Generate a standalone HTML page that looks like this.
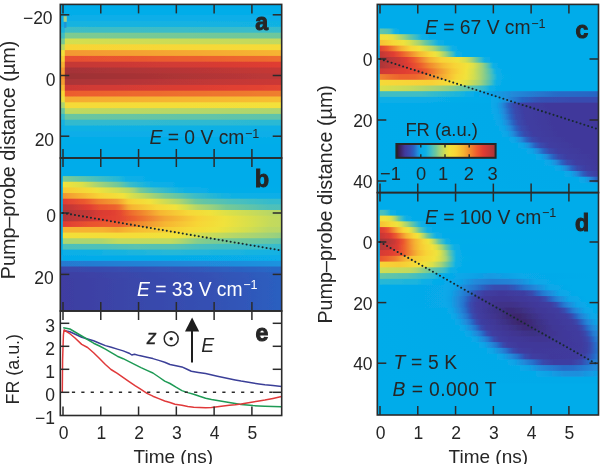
<!DOCTYPE html>
<html><head><meta charset="utf-8"><style>html,body{margin:0;padding:0;background:#fff;width:600px;height:464px;overflow:hidden}svg text{font-family:'Liberation Sans',sans-serif}</style></head>
<body><svg width="600" height="464" viewBox="0 0 600 464" style="display:block;font-family:'Liberation Sans',sans-serif">
<defs><filter id="vb" x="-2%" y="-2%" width="104%" height="104%"><feGaussianBlur stdDeviation="0.4 0.6"/></filter><clipPath id="cpa"><rect x="60.3" y="4.4" width="221.4" height="153.6"/></clipPath><linearGradient id="g1" x1="0" x2="1" y1="0" y2="0"><stop offset="0.000" stop-color="#06ade9"/><stop offset="0.998" stop-color="#06ade9"/></linearGradient><linearGradient id="g2" x1="0" x2="1" y1="0" y2="0"><stop offset="0.000" stop-color="#07aee8"/><stop offset="0.998" stop-color="#09aee8"/></linearGradient><linearGradient id="g3" x1="0" x2="1" y1="0" y2="0"><stop offset="0.000" stop-color="#0aafe7"/><stop offset="0.018" stop-color="#0aafe7"/><stop offset="0.023" stop-color="#16b3e0"/><stop offset="0.998" stop-color="#11b2e3"/></linearGradient><linearGradient id="g4" x1="0" x2="1" y1="0" y2="0"><stop offset="0.000" stop-color="#1bb4de"/><stop offset="0.018" stop-color="#1bb4de"/><stop offset="0.023" stop-color="#3fbdc5"/><stop offset="0.998" stop-color="#36bbcc"/></linearGradient><linearGradient id="g5" x1="0" x2="1" y1="0" y2="0"><stop offset="0.000" stop-color="#41bdc4"/><stop offset="0.018" stop-color="#40bdc4"/><stop offset="0.023" stop-color="#7ecb90"/><stop offset="0.998" stop-color="#6dc79d"/></linearGradient><linearGradient id="g6" x1="0" x2="1" y1="0" y2="0"><stop offset="0.000" stop-color="#74c996"/><stop offset="0.018" stop-color="#74c897"/><stop offset="0.023" stop-color="#d5df4e"/><stop offset="0.998" stop-color="#c1d95e"/></linearGradient><linearGradient id="g7" x1="0" x2="1" y1="0" y2="0"><stop offset="0.000" stop-color="#bdd862"/><stop offset="0.018" stop-color="#bcd862"/><stop offset="0.023" stop-color="#f8d436"/><stop offset="0.998" stop-color="#f5db38"/></linearGradient><linearGradient id="g8" x1="0" x2="1" y1="0" y2="0"><stop offset="0.000" stop-color="#f2e13a"/><stop offset="0.018" stop-color="#f2e13a"/><stop offset="0.023" stop-color="#f39830"/><stop offset="0.998" stop-color="#f6b432"/></linearGradient><linearGradient id="g9" x1="0" x2="1" y1="0" y2="0"><stop offset="0.000" stop-color="#f8ce35"/><stop offset="0.018" stop-color="#f8ce35"/><stop offset="0.023" stop-color="#e74e30"/><stop offset="0.790" stop-color="#ed662e"/><stop offset="0.998" stop-color="#ee6e2e"/></linearGradient><linearGradient id="g10" x1="0" x2="1" y1="0" y2="0"><stop offset="0.000" stop-color="#f6b232"/><stop offset="0.018" stop-color="#f6b332"/><stop offset="0.023" stop-color="#c43836"/><stop offset="0.998" stop-color="#e03c32"/></linearGradient><linearGradient id="g11" x1="0" x2="1" y1="0" y2="0"><stop offset="0.000" stop-color="#f29830"/><stop offset="0.018" stop-color="#f39830"/><stop offset="0.023" stop-color="#a53337"/><stop offset="0.998" stop-color="#c63836"/></linearGradient><linearGradient id="g12" x1="0" x2="1" y1="0" y2="0"><stop offset="0.000" stop-color="#f2902f"/><stop offset="0.018" stop-color="#f2912f"/><stop offset="0.023" stop-color="#9c3035"/><stop offset="0.908" stop-color="#ba3737"/><stop offset="0.998" stop-color="#bd3737"/></linearGradient><linearGradient id="g13" x1="0" x2="1" y1="0" y2="0"><stop offset="0.000" stop-color="#f39d30"/><stop offset="0.018" stop-color="#f39d30"/><stop offset="0.023" stop-color="#aa3538"/><stop offset="0.998" stop-color="#cb3836"/></linearGradient><linearGradient id="g14" x1="0" x2="1" y1="0" y2="0"><stop offset="0.000" stop-color="#f6b933"/><stop offset="0.018" stop-color="#f6b933"/><stop offset="0.023" stop-color="#ce3935"/><stop offset="0.768" stop-color="#e13f32"/><stop offset="0.998" stop-color="#e44631"/></linearGradient><linearGradient id="g15" x1="0" x2="1" y1="0" y2="0"><stop offset="0.000" stop-color="#f8d536"/><stop offset="0.018" stop-color="#f8d536"/><stop offset="0.023" stop-color="#ec5c2e"/><stop offset="0.998" stop-color="#ef7f2e"/></linearGradient><linearGradient id="g16" x1="0" x2="1" y1="0" y2="0"><stop offset="0.000" stop-color="#e9e140"/><stop offset="0.018" stop-color="#e8e140"/><stop offset="0.023" stop-color="#f5ab31"/><stop offset="0.998" stop-color="#f7bf33"/></linearGradient><linearGradient id="g17" x1="0" x2="1" y1="0" y2="0"><stop offset="0.000" stop-color="#add56f"/><stop offset="0.018" stop-color="#acd570"/><stop offset="0.023" stop-color="#f5da38"/><stop offset="0.998" stop-color="#f3e13a"/></linearGradient><linearGradient id="g18" x1="0" x2="1" y1="0" y2="0"><stop offset="0.000" stop-color="#66c5a3"/><stop offset="0.018" stop-color="#66c5a3"/><stop offset="0.023" stop-color="#c1d95e"/><stop offset="0.998" stop-color="#add56f"/></linearGradient><linearGradient id="g19" x1="0" x2="1" y1="0" y2="0"><stop offset="0.000" stop-color="#36bbcc"/><stop offset="0.018" stop-color="#36bbcc"/><stop offset="0.023" stop-color="#6bc69f"/><stop offset="0.998" stop-color="#5ec4ab"/></linearGradient><linearGradient id="g20" x1="0" x2="1" y1="0" y2="0"><stop offset="0.000" stop-color="#14b2e2"/><stop offset="0.018" stop-color="#14b2e2"/><stop offset="0.023" stop-color="#33bace"/><stop offset="0.998" stop-color="#2bb9d4"/></linearGradient><linearGradient id="g21" x1="0" x2="1" y1="0" y2="0"><stop offset="0.000" stop-color="#09afe7"/><stop offset="0.018" stop-color="#09afe7"/><stop offset="0.023" stop-color="#0fb1e4"/><stop offset="0.998" stop-color="#0cb0e6"/></linearGradient><linearGradient id="g22" x1="0" x2="1" y1="0" y2="0"><stop offset="0.000" stop-color="#07ade9"/><stop offset="0.998" stop-color="#08aee8"/></linearGradient><linearGradient id="g23" x1="0" x2="1" y1="0" y2="0"><stop offset="0.000" stop-color="#05ade9"/><stop offset="0.998" stop-color="#06ade9"/></linearGradient><clipPath id="cpb"><rect x="60.3" y="158.0" width="221.4" height="153.0"/></clipPath><linearGradient id="g24" x1="0" x2="1" y1="0" y2="0"><stop offset="0.000" stop-color="#04acea"/><stop offset="0.009" stop-color="#04acea"/><stop offset="0.014" stop-color="#7fcb90"/><stop offset="0.126" stop-color="#56c2b3"/><stop offset="0.185" stop-color="#40bdc4"/><stop offset="0.266" stop-color="#23b7d9"/><stop offset="0.298" stop-color="#0cb0e6"/><stop offset="0.416" stop-color="#04acea"/><stop offset="0.998" stop-color="#04acea"/></linearGradient><linearGradient id="g25" x1="0" x2="1" y1="0" y2="0"><stop offset="0.000" stop-color="#04acea"/><stop offset="0.009" stop-color="#04acea"/><stop offset="0.014" stop-color="#f1e23b"/><stop offset="0.099" stop-color="#dae04a"/><stop offset="0.172" stop-color="#a5d376"/><stop offset="0.262" stop-color="#6fc79b"/><stop offset="0.289" stop-color="#55c2b3"/><stop offset="0.316" stop-color="#3abcc9"/><stop offset="0.397" stop-color="#14b2e2"/><stop offset="0.425" stop-color="#0bb0e6"/><stop offset="0.565" stop-color="#04acea"/><stop offset="0.998" stop-color="#04acea"/></linearGradient><linearGradient id="g26" x1="0" x2="1" y1="0" y2="0"><stop offset="0.000" stop-color="#04acea"/><stop offset="0.009" stop-color="#04acea"/><stop offset="0.014" stop-color="#f7ca35"/><stop offset="0.131" stop-color="#f4dc38"/><stop offset="0.167" stop-color="#efe23c"/><stop offset="0.262" stop-color="#cfdd53"/><stop offset="0.312" stop-color="#b6d767"/><stop offset="0.334" stop-color="#a0d27a"/><stop offset="0.361" stop-color="#78c994"/><stop offset="0.425" stop-color="#4abfbd"/><stop offset="0.533" stop-color="#19b4df"/><stop offset="0.578" stop-color="#0bb0e6"/><stop offset="0.678" stop-color="#06ade9"/><stop offset="0.998" stop-color="#05ade9"/></linearGradient><linearGradient id="g27" x1="0" x2="1" y1="0" y2="0"><stop offset="0.000" stop-color="#04acea"/><stop offset="0.009" stop-color="#04acea"/><stop offset="0.014" stop-color="#f2962f"/><stop offset="0.068" stop-color="#f5aa31"/><stop offset="0.181" stop-color="#f8d336"/><stop offset="0.285" stop-color="#f1e23b"/><stop offset="0.316" stop-color="#dbe049"/><stop offset="0.379" stop-color="#bcd862"/><stop offset="0.470" stop-color="#7fcb90"/><stop offset="0.542" stop-color="#5fc4aa"/><stop offset="0.605" stop-color="#3ebdc5"/><stop offset="0.745" stop-color="#14b2e1"/><stop offset="0.836" stop-color="#0bb0e6"/><stop offset="0.998" stop-color="#08aee8"/></linearGradient><linearGradient id="g28" x1="0" x2="1" y1="0" y2="0"><stop offset="0.000" stop-color="#04acea"/><stop offset="0.009" stop-color="#04acea"/><stop offset="0.014" stop-color="#e13d32"/><stop offset="0.113" stop-color="#ec5a2e"/><stop offset="0.172" stop-color="#f0802e"/><stop offset="0.257" stop-color="#f39e30"/><stop offset="0.307" stop-color="#f8cd35"/><stop offset="0.330" stop-color="#f7d536"/><stop offset="0.407" stop-color="#f1e23b"/><stop offset="0.492" stop-color="#c5da5b"/><stop offset="0.537" stop-color="#add56f"/><stop offset="0.569" stop-color="#93cf83"/><stop offset="0.610" stop-color="#70c899"/><stop offset="0.646" stop-color="#64c5a5"/><stop offset="0.772" stop-color="#4dc0bb"/><stop offset="0.949" stop-color="#35bbcc"/><stop offset="0.998" stop-color="#35bbcd"/></linearGradient><linearGradient id="g29" x1="0" x2="1" y1="0" y2="0"><stop offset="0.000" stop-color="#04acea"/><stop offset="0.009" stop-color="#04acea"/><stop offset="0.014" stop-color="#ba3737"/><stop offset="0.126" stop-color="#e03c32"/><stop offset="0.176" stop-color="#e9522f"/><stop offset="0.248" stop-color="#ed612e"/><stop offset="0.266" stop-color="#ee6e2e"/><stop offset="0.307" stop-color="#f4a831"/><stop offset="0.325" stop-color="#f6b532"/><stop offset="0.434" stop-color="#f7d737"/><stop offset="0.519" stop-color="#f1e23b"/><stop offset="0.569" stop-color="#d5df4e"/><stop offset="0.619" stop-color="#b3d66a"/><stop offset="0.682" stop-color="#99d17e"/><stop offset="0.750" stop-color="#77c995"/><stop offset="0.939" stop-color="#4fc0b9"/><stop offset="0.998" stop-color="#4ec0ba"/></linearGradient><linearGradient id="g30" x1="0" x2="1" y1="0" y2="0"><stop offset="0.000" stop-color="#04acea"/><stop offset="0.009" stop-color="#04acea"/><stop offset="0.014" stop-color="#ad3638"/><stop offset="0.126" stop-color="#c43836"/><stop offset="0.181" stop-color="#da3b33"/><stop offset="0.239" stop-color="#e13f32"/><stop offset="0.271" stop-color="#e54930"/><stop offset="0.312" stop-color="#ed672e"/><stop offset="0.393" stop-color="#f2942f"/><stop offset="0.452" stop-color="#f6b732"/><stop offset="0.578" stop-color="#f6d837"/><stop offset="0.678" stop-color="#f0e23b"/><stop offset="0.763" stop-color="#dae04a"/><stop offset="0.949" stop-color="#b9d766"/><stop offset="0.998" stop-color="#b8d766"/></linearGradient><linearGradient id="g31" x1="0" x2="1" y1="0" y2="0"><stop offset="0.000" stop-color="#04acea"/><stop offset="0.009" stop-color="#04acea"/><stop offset="0.014" stop-color="#b33638"/><stop offset="0.126" stop-color="#ca3836"/><stop offset="0.181" stop-color="#df3c32"/><stop offset="0.266" stop-color="#e44531"/><stop offset="0.339" stop-color="#ed622e"/><stop offset="0.470" stop-color="#f4a431"/><stop offset="0.623" stop-color="#f8d236"/><stop offset="0.741" stop-color="#f0e23b"/><stop offset="0.876" stop-color="#d4de4f"/><stop offset="0.953" stop-color="#c4da5c"/><stop offset="0.998" stop-color="#c0d95f"/></linearGradient><linearGradient id="g32" x1="0" x2="1" y1="0" y2="0"><stop offset="0.000" stop-color="#04acea"/><stop offset="0.009" stop-color="#04acea"/><stop offset="0.014" stop-color="#e03d32"/><stop offset="0.126" stop-color="#e9522f"/><stop offset="0.194" stop-color="#ec5a2e"/><stop offset="0.262" stop-color="#ec5d2e"/><stop offset="0.321" stop-color="#ef7c2e"/><stop offset="0.411" stop-color="#f39f30"/><stop offset="0.474" stop-color="#f6b632"/><stop offset="0.565" stop-color="#f7ca35"/><stop offset="0.619" stop-color="#f7d636"/><stop offset="0.736" stop-color="#f1e23b"/><stop offset="0.872" stop-color="#d5df4e"/><stop offset="0.949" stop-color="#c4da5c"/><stop offset="0.998" stop-color="#c0d95f"/></linearGradient><linearGradient id="g33" x1="0" x2="1" y1="0" y2="0"><stop offset="0.000" stop-color="#04acea"/><stop offset="0.009" stop-color="#04acea"/><stop offset="0.014" stop-color="#f6b432"/><stop offset="0.190" stop-color="#f6b232"/><stop offset="0.257" stop-color="#f4a731"/><stop offset="0.289" stop-color="#f6b132"/><stop offset="0.330" stop-color="#f6ba33"/><stop offset="0.583" stop-color="#f6d937"/><stop offset="0.705" stop-color="#f0e23b"/><stop offset="0.777" stop-color="#e0e146"/><stop offset="0.845" stop-color="#d2de50"/><stop offset="0.939" stop-color="#bad865"/><stop offset="0.998" stop-color="#b8d766"/></linearGradient><linearGradient id="g34" x1="0" x2="1" y1="0" y2="0"><stop offset="0.000" stop-color="#04acea"/><stop offset="0.009" stop-color="#04acea"/><stop offset="0.014" stop-color="#f3df39"/><stop offset="0.217" stop-color="#f4dd38"/><stop offset="0.298" stop-color="#f5dc38"/><stop offset="0.533" stop-color="#f0e23b"/><stop offset="0.637" stop-color="#cfdd53"/><stop offset="0.777" stop-color="#b7d767"/><stop offset="0.967" stop-color="#9bd17d"/><stop offset="0.998" stop-color="#93cf83"/></linearGradient><linearGradient id="g35" x1="0" x2="1" y1="0" y2="0"><stop offset="0.000" stop-color="#04acea"/><stop offset="0.009" stop-color="#04acea"/><stop offset="0.014" stop-color="#acd570"/><stop offset="0.185" stop-color="#aed56e"/><stop offset="0.262" stop-color="#c3da5d"/><stop offset="0.497" stop-color="#c2da5e"/><stop offset="0.542" stop-color="#b1d66c"/><stop offset="0.619" stop-color="#87cd8a"/><stop offset="0.682" stop-color="#7cca92"/><stop offset="0.799" stop-color="#70c89a"/><stop offset="0.967" stop-color="#62c4a7"/><stop offset="0.998" stop-color="#5cc3ad"/></linearGradient><linearGradient id="g36" x1="0" x2="1" y1="0" y2="0"><stop offset="0.000" stop-color="#04acea"/><stop offset="0.009" stop-color="#04acea"/><stop offset="0.014" stop-color="#4ec0ba"/><stop offset="0.212" stop-color="#50c1b8"/><stop offset="0.339" stop-color="#5ac3af"/><stop offset="0.515" stop-color="#58c2b1"/><stop offset="0.637" stop-color="#46bec0"/><stop offset="0.971" stop-color="#39bcca"/><stop offset="0.998" stop-color="#36bbcc"/></linearGradient><linearGradient id="g37" x1="0" x2="1" y1="0" y2="0"><stop offset="0.000" stop-color="#04acea"/><stop offset="0.009" stop-color="#04acea"/><stop offset="0.014" stop-color="#0bafe7"/><stop offset="0.154" stop-color="#0fb1e4"/><stop offset="0.492" stop-color="#27b8d7"/><stop offset="0.962" stop-color="#14b2e2"/><stop offset="0.998" stop-color="#11b1e3"/></linearGradient><linearGradient id="g38" x1="0" x2="1" y1="0" y2="0"><stop offset="0.000" stop-color="#08a8e9"/><stop offset="0.009" stop-color="#08a8e9"/><stop offset="0.014" stop-color="#05acea"/><stop offset="0.998" stop-color="#07ade9"/></linearGradient><linearGradient id="g39" x1="0" x2="1" y1="0" y2="0"><stop offset="0.000" stop-color="#2579d0"/><stop offset="0.781" stop-color="#1f8ddc"/><stop offset="0.998" stop-color="#1a93df"/></linearGradient><linearGradient id="g40" x1="0" x2="1" y1="0" y2="0"><stop offset="0.000" stop-color="#3b45a9"/><stop offset="0.474" stop-color="#3453b6"/><stop offset="0.998" stop-color="#2769c7"/></linearGradient><linearGradient id="g41" x1="0" x2="1" y1="0" y2="0"><stop offset="0.000" stop-color="#3e3ea2"/><stop offset="0.678" stop-color="#3551b4"/><stop offset="0.998" stop-color="#2b60c0"/></linearGradient><linearGradient id="g42" x1="0" x2="1" y1="0" y2="0"><stop offset="0.000" stop-color="#3f3da1"/><stop offset="0.700" stop-color="#3551b4"/><stop offset="0.998" stop-color="#2b5fc0"/></linearGradient><linearGradient id="g43" x1="0" x2="1" y1="0" y2="0"><stop offset="0.000" stop-color="#3f3da1"/><stop offset="0.705" stop-color="#3451b4"/><stop offset="0.998" stop-color="#2b5fc0"/></linearGradient><linearGradient id="g44" x1="0" x2="1" y1="0" y2="0"><stop offset="0.000" stop-color="#3f3da1"/><stop offset="0.705" stop-color="#3451b4"/><stop offset="0.998" stop-color="#2b5fc0"/></linearGradient><linearGradient id="g45" x1="0" x2="1" y1="0" y2="0"><stop offset="0.000" stop-color="#3f3da1"/><stop offset="0.705" stop-color="#3451b4"/><stop offset="0.998" stop-color="#2b5fc0"/></linearGradient><linearGradient id="g46" x1="0" x2="1" y1="0" y2="0"><stop offset="0.000" stop-color="#3f3da1"/><stop offset="0.705" stop-color="#3451b4"/><stop offset="0.998" stop-color="#2b5fc0"/></linearGradient><linearGradient id="g47" x1="0" x2="1" y1="0" y2="0"><stop offset="0.000" stop-color="#3f3da1"/><stop offset="0.705" stop-color="#3451b4"/><stop offset="0.998" stop-color="#2b5fc0"/></linearGradient><clipPath id="cpc"><rect x="377.3" y="4.4" width="221.2" height="188.2"/></clipPath><linearGradient id="g48" x1="0" x2="1" y1="0" y2="0"><stop offset="0.000" stop-color="#04acea"/><stop offset="0.009" stop-color="#04acea"/><stop offset="0.014" stop-color="#63c5a6"/><stop offset="0.045" stop-color="#54c1b4"/><stop offset="0.059" stop-color="#44bec2"/><stop offset="0.072" stop-color="#22b6d9"/><stop offset="0.081" stop-color="#0bb0e6"/><stop offset="0.108" stop-color="#04acea"/><stop offset="0.999" stop-color="#04acea"/></linearGradient><linearGradient id="g49" x1="0" x2="1" y1="0" y2="0"><stop offset="0.000" stop-color="#04acea"/><stop offset="0.009" stop-color="#04acea"/><stop offset="0.014" stop-color="#f3e039"/><stop offset="0.045" stop-color="#efe23c"/><stop offset="0.072" stop-color="#dfe047"/><stop offset="0.090" stop-color="#c6db5a"/><stop offset="0.122" stop-color="#95d081"/><stop offset="0.145" stop-color="#6bc69f"/><stop offset="0.181" stop-color="#32bacf"/><stop offset="0.203" stop-color="#0cb0e6"/><stop offset="0.244" stop-color="#04acea"/><stop offset="0.999" stop-color="#04acea"/></linearGradient><linearGradient id="g50" x1="0" x2="1" y1="0" y2="0"><stop offset="0.000" stop-color="#04acea"/><stop offset="0.009" stop-color="#04acea"/><stop offset="0.014" stop-color="#f7c134"/><stop offset="0.072" stop-color="#f6d837"/><stop offset="0.118" stop-color="#f0e23c"/><stop offset="0.145" stop-color="#dae04a"/><stop offset="0.190" stop-color="#a1d279"/><stop offset="0.217" stop-color="#6cc79d"/><stop offset="0.253" stop-color="#33bace"/><stop offset="0.276" stop-color="#0cb0e6"/><stop offset="0.312" stop-color="#04acea"/><stop offset="0.999" stop-color="#04acea"/></linearGradient><linearGradient id="g51" x1="0" x2="1" y1="0" y2="0"><stop offset="0.000" stop-color="#04acea"/><stop offset="0.009" stop-color="#04acea"/><stop offset="0.014" stop-color="#e24131"/><stop offset="0.045" stop-color="#ec592e"/><stop offset="0.077" stop-color="#f0842e"/><stop offset="0.108" stop-color="#f6b032"/><stop offset="0.149" stop-color="#f8d536"/><stop offset="0.190" stop-color="#f1e23b"/><stop offset="0.222" stop-color="#d3de50"/><stop offset="0.249" stop-color="#b2d66b"/><stop offset="0.262" stop-color="#9bd17d"/><stop offset="0.285" stop-color="#6cc79d"/><stop offset="0.316" stop-color="#39bcca"/><stop offset="0.339" stop-color="#0cb0e6"/><stop offset="0.371" stop-color="#04acea"/><stop offset="0.999" stop-color="#04acea"/></linearGradient><linearGradient id="g52" x1="0" x2="1" y1="0" y2="0"><stop offset="0.000" stop-color="#04acea"/><stop offset="0.009" stop-color="#04acea"/><stop offset="0.014" stop-color="#c23836"/><stop offset="0.072" stop-color="#e03d32"/><stop offset="0.108" stop-color="#ec592e"/><stop offset="0.167" stop-color="#f39c30"/><stop offset="0.190" stop-color="#f6b732"/><stop offset="0.235" stop-color="#f7d737"/><stop offset="0.262" stop-color="#f0e23c"/><stop offset="0.280" stop-color="#dae04a"/><stop offset="0.307" stop-color="#9fd27a"/><stop offset="0.325" stop-color="#6cc79e"/><stop offset="0.344" stop-color="#3bbcc8"/><stop offset="0.357" stop-color="#13b2e2"/><stop offset="0.362" stop-color="#0bb0e6"/><stop offset="0.393" stop-color="#04acea"/><stop offset="0.999" stop-color="#04acea"/></linearGradient><linearGradient id="g53" x1="0" x2="1" y1="0" y2="0"><stop offset="0.000" stop-color="#04acea"/><stop offset="0.009" stop-color="#04acea"/><stop offset="0.014" stop-color="#a83537"/><stop offset="0.072" stop-color="#bc3737"/><stop offset="0.113" stop-color="#d43a34"/><stop offset="0.131" stop-color="#e03d32"/><stop offset="0.167" stop-color="#ec592e"/><stop offset="0.235" stop-color="#f5af32"/><stop offset="0.285" stop-color="#f8d136"/><stop offset="0.366" stop-color="#f0e23b"/><stop offset="0.398" stop-color="#d4de4f"/><stop offset="0.416" stop-color="#b8d766"/><stop offset="0.429" stop-color="#9bd17d"/><stop offset="0.448" stop-color="#6cc79d"/><stop offset="0.470" stop-color="#37bbcb"/><stop offset="0.484" stop-color="#13b2e2"/><stop offset="0.488" stop-color="#0bb0e6"/><stop offset="0.520" stop-color="#04acea"/><stop offset="0.999" stop-color="#04acea"/></linearGradient><linearGradient id="g54" x1="0" x2="1" y1="0" y2="0"><stop offset="0.000" stop-color="#04acea"/><stop offset="0.009" stop-color="#04acea"/><stop offset="0.014" stop-color="#ae3638"/><stop offset="0.108" stop-color="#cf3935"/><stop offset="0.140" stop-color="#e03c32"/><stop offset="0.194" stop-color="#ec5d2e"/><stop offset="0.235" stop-color="#f1882e"/><stop offset="0.298" stop-color="#f6bb33"/><stop offset="0.348" stop-color="#f8d336"/><stop offset="0.407" stop-color="#f2e23a"/><stop offset="0.434" stop-color="#dde048"/><stop offset="0.457" stop-color="#bad864"/><stop offset="0.475" stop-color="#99d07f"/><stop offset="0.493" stop-color="#6bc69f"/><stop offset="0.506" stop-color="#46bec0"/><stop offset="0.520" stop-color="#1ab4de"/><stop offset="0.524" stop-color="#0cb0e6"/><stop offset="0.552" stop-color="#04acea"/><stop offset="0.999" stop-color="#04acea"/></linearGradient><linearGradient id="g55" x1="0" x2="1" y1="0" y2="0"><stop offset="0.000" stop-color="#04acea"/><stop offset="0.009" stop-color="#04acea"/><stop offset="0.014" stop-color="#d03935"/><stop offset="0.127" stop-color="#e13e32"/><stop offset="0.194" stop-color="#e64c30"/><stop offset="0.222" stop-color="#ec5d2e"/><stop offset="0.271" stop-color="#f18f2f"/><stop offset="0.335" stop-color="#f7c334"/><stop offset="0.371" stop-color="#f7d637"/><stop offset="0.402" stop-color="#f2e23a"/><stop offset="0.434" stop-color="#d6df4d"/><stop offset="0.475" stop-color="#9bd17d"/><stop offset="0.497" stop-color="#6dc79d"/><stop offset="0.515" stop-color="#48bfbf"/><stop offset="0.533" stop-color="#16b3e0"/><stop offset="0.538" stop-color="#0cb0e6"/><stop offset="0.570" stop-color="#04acea"/><stop offset="0.999" stop-color="#04acea"/></linearGradient><linearGradient id="g56" x1="0" x2="1" y1="0" y2="0"><stop offset="0.000" stop-color="#04acea"/><stop offset="0.009" stop-color="#04acea"/><stop offset="0.014" stop-color="#f0822e"/><stop offset="0.063" stop-color="#ee6f2e"/><stop offset="0.104" stop-color="#ed632e"/><stop offset="0.172" stop-color="#ed652e"/><stop offset="0.208" stop-color="#ef752e"/><stop offset="0.276" stop-color="#f39f30"/><stop offset="0.321" stop-color="#f7bd33"/><stop offset="0.357" stop-color="#f7d636"/><stop offset="0.402" stop-color="#f1e23b"/><stop offset="0.439" stop-color="#cfdd53"/><stop offset="0.461" stop-color="#b2d66b"/><stop offset="0.484" stop-color="#8bcd88"/><stop offset="0.506" stop-color="#61c4a8"/><stop offset="0.529" stop-color="#2fb9d1"/><stop offset="0.542" stop-color="#0fb1e4"/><stop offset="0.556" stop-color="#07aee8"/><stop offset="0.615" stop-color="#04acea"/><stop offset="0.999" stop-color="#04acea"/></linearGradient><linearGradient id="g57" x1="0" x2="1" y1="0" y2="0"><stop offset="0.000" stop-color="#04acea"/><stop offset="0.009" stop-color="#04acea"/><stop offset="0.014" stop-color="#f6d938"/><stop offset="0.244" stop-color="#f8d036"/><stop offset="0.371" stop-color="#f1e23b"/><stop offset="0.407" stop-color="#dbe049"/><stop offset="0.466" stop-color="#9fd27b"/><stop offset="0.497" stop-color="#66c5a3"/><stop offset="0.515" stop-color="#45bec0"/><stop offset="0.533" stop-color="#16b3e0"/><stop offset="0.538" stop-color="#0cb0e6"/><stop offset="0.570" stop-color="#04acea"/><stop offset="0.999" stop-color="#04acea"/></linearGradient><linearGradient id="g58" x1="0" x2="1" y1="0" y2="0"><stop offset="0.000" stop-color="#04acea"/><stop offset="0.009" stop-color="#04acea"/><stop offset="0.014" stop-color="#d9e04b"/><stop offset="0.145" stop-color="#c6db5a"/><stop offset="0.280" stop-color="#a1d279"/><stop offset="0.321" stop-color="#91cf84"/><stop offset="0.384" stop-color="#69c6a1"/><stop offset="0.443" stop-color="#4ec0ba"/><stop offset="0.488" stop-color="#2ab8d4"/><stop offset="0.502" stop-color="#18b3df"/><stop offset="0.511" stop-color="#0bb0e6"/><stop offset="0.547" stop-color="#04acea"/><stop offset="0.999" stop-color="#04acea"/></linearGradient><linearGradient id="g59" x1="0" x2="1" y1="0" y2="0"><stop offset="0.000" stop-color="#04acea"/><stop offset="0.009" stop-color="#04acea"/><stop offset="0.014" stop-color="#41bdc3"/><stop offset="0.203" stop-color="#3fbdc5"/><stop offset="0.384" stop-color="#18b3df"/><stop offset="0.407" stop-color="#0bafe7"/><stop offset="0.448" stop-color="#05abea"/><stop offset="0.515" stop-color="#0da2e6"/><stop offset="0.615" stop-color="#2289d9"/><stop offset="0.805" stop-color="#276cc8"/><stop offset="0.990" stop-color="#2865c4"/><stop offset="0.999" stop-color="#2865c4"/></linearGradient><linearGradient id="g60" x1="0" x2="1" y1="0" y2="0"><stop offset="0.000" stop-color="#04acea"/><stop offset="0.009" stop-color="#04acea"/><stop offset="0.014" stop-color="#0bafe7"/><stop offset="0.335" stop-color="#06ade9"/><stop offset="0.502" stop-color="#05abea"/><stop offset="0.547" stop-color="#0ba5e7"/><stop offset="0.592" stop-color="#2288d9"/><stop offset="0.656" stop-color="#2864c4"/><stop offset="0.737" stop-color="#3551b4"/><stop offset="0.873" stop-color="#384cb0"/><stop offset="0.999" stop-color="#384cb0"/></linearGradient><linearGradient id="g61" x1="0" x2="1" y1="0" y2="0"><stop offset="0.000" stop-color="#04acea"/><stop offset="0.511" stop-color="#06aae9"/><stop offset="0.538" stop-color="#0ca4e7"/><stop offset="0.561" stop-color="#1e8fdd"/><stop offset="0.570" stop-color="#2383d6"/><stop offset="0.592" stop-color="#2a61c1"/><stop offset="0.615" stop-color="#394baf"/><stop offset="0.656" stop-color="#3f3da1"/><stop offset="0.769" stop-color="#40399b"/><stop offset="0.999" stop-color="#40399b"/></linearGradient><linearGradient id="g62" x1="0" x2="1" y1="0" y2="0"><stop offset="0.000" stop-color="#04acea"/><stop offset="0.515" stop-color="#06aae9"/><stop offset="0.542" stop-color="#0ba5e8"/><stop offset="0.565" stop-color="#1c91de"/><stop offset="0.574" stop-color="#2386d8"/><stop offset="0.601" stop-color="#2c5ebf"/><stop offset="0.624" stop-color="#3949ad"/><stop offset="0.665" stop-color="#3f3da1"/><stop offset="0.782" stop-color="#40399b"/><stop offset="0.999" stop-color="#40399b"/></linearGradient><linearGradient id="g63" x1="0" x2="1" y1="0" y2="0"><stop offset="0.000" stop-color="#04acea"/><stop offset="0.524" stop-color="#06aae9"/><stop offset="0.552" stop-color="#0ca4e7"/><stop offset="0.574" stop-color="#1f8edc"/><stop offset="0.588" stop-color="#247bd2"/><stop offset="0.606" stop-color="#2b60c1"/><stop offset="0.628" stop-color="#394aae"/><stop offset="0.669" stop-color="#3f3da1"/><stop offset="0.782" stop-color="#40399b"/><stop offset="0.999" stop-color="#40399b"/></linearGradient><linearGradient id="g64" x1="0" x2="1" y1="0" y2="0"><stop offset="0.000" stop-color="#04acea"/><stop offset="0.533" stop-color="#06aae9"/><stop offset="0.561" stop-color="#0ca4e7"/><stop offset="0.583" stop-color="#1e8fdd"/><stop offset="0.592" stop-color="#2383d6"/><stop offset="0.615" stop-color="#2a61c1"/><stop offset="0.637" stop-color="#394aae"/><stop offset="0.678" stop-color="#3f3da1"/><stop offset="0.791" stop-color="#40399b"/><stop offset="0.999" stop-color="#40399b"/></linearGradient><linearGradient id="g65" x1="0" x2="1" y1="0" y2="0"><stop offset="0.000" stop-color="#04acea"/><stop offset="0.547" stop-color="#06aae9"/><stop offset="0.574" stop-color="#0ba4e7"/><stop offset="0.597" stop-color="#1d90dd"/><stop offset="0.606" stop-color="#2384d6"/><stop offset="0.628" stop-color="#2a61c2"/><stop offset="0.651" stop-color="#394baf"/><stop offset="0.692" stop-color="#3f3da1"/><stop offset="0.805" stop-color="#40399b"/><stop offset="0.999" stop-color="#40399b"/></linearGradient><linearGradient id="g66" x1="0" x2="1" y1="0" y2="0"><stop offset="0.000" stop-color="#04acea"/><stop offset="0.561" stop-color="#06aae9"/><stop offset="0.588" stop-color="#0ba5e7"/><stop offset="0.610" stop-color="#1d90dd"/><stop offset="0.619" stop-color="#2384d7"/><stop offset="0.642" stop-color="#2962c2"/><stop offset="0.665" stop-color="#384baf"/><stop offset="0.705" stop-color="#3f3da1"/><stop offset="0.818" stop-color="#40399b"/><stop offset="0.999" stop-color="#40399b"/></linearGradient><linearGradient id="g67" x1="0" x2="1" y1="0" y2="0"><stop offset="0.000" stop-color="#04acea"/><stop offset="0.592" stop-color="#06aae9"/><stop offset="0.619" stop-color="#0aa6e8"/><stop offset="0.642" stop-color="#1b92de"/><stop offset="0.651" stop-color="#2387d8"/><stop offset="0.678" stop-color="#2c5fbf"/><stop offset="0.701" stop-color="#3949ad"/><stop offset="0.741" stop-color="#3f3da1"/><stop offset="0.854" stop-color="#40399b"/><stop offset="0.999" stop-color="#40399b"/></linearGradient><linearGradient id="g68" x1="0" x2="1" y1="0" y2="0"><stop offset="0.000" stop-color="#04acea"/><stop offset="0.633" stop-color="#06aae9"/><stop offset="0.660" stop-color="#0ba4e7"/><stop offset="0.683" stop-color="#1d90dd"/><stop offset="0.687" stop-color="#228ada"/><stop offset="0.714" stop-color="#2a61c2"/><stop offset="0.737" stop-color="#394baf"/><stop offset="0.778" stop-color="#3f3da1"/><stop offset="0.891" stop-color="#40399b"/><stop offset="0.999" stop-color="#40399b"/></linearGradient><linearGradient id="g69" x1="0" x2="1" y1="0" y2="0"><stop offset="0.000" stop-color="#04acea"/><stop offset="0.674" stop-color="#06aae9"/><stop offset="0.701" stop-color="#0ca3e7"/><stop offset="0.723" stop-color="#1f8ddc"/><stop offset="0.755" stop-color="#2b5fc0"/><stop offset="0.778" stop-color="#394aae"/><stop offset="0.818" stop-color="#3f3da1"/><stop offset="0.931" stop-color="#40399b"/><stop offset="0.999" stop-color="#40399b"/></linearGradient><linearGradient id="g70" x1="0" x2="1" y1="0" y2="0"><stop offset="0.000" stop-color="#04acea"/><stop offset="0.714" stop-color="#06aae9"/><stop offset="0.741" stop-color="#0ca3e7"/><stop offset="0.764" stop-color="#1f8edc"/><stop offset="0.796" stop-color="#2b60c0"/><stop offset="0.818" stop-color="#394aae"/><stop offset="0.859" stop-color="#3f3da1"/><stop offset="0.972" stop-color="#40399b"/><stop offset="0.999" stop-color="#40399b"/></linearGradient><linearGradient id="g71" x1="0" x2="1" y1="0" y2="0"><stop offset="0.000" stop-color="#04acea"/><stop offset="0.755" stop-color="#06aae9"/><stop offset="0.782" stop-color="#0ba4e7"/><stop offset="0.805" stop-color="#1d90dd"/><stop offset="0.814" stop-color="#2384d6"/><stop offset="0.836" stop-color="#2a61c2"/><stop offset="0.859" stop-color="#394baf"/><stop offset="0.900" stop-color="#3f3da1"/><stop offset="0.999" stop-color="#40399b"/></linearGradient><linearGradient id="g72" x1="0" x2="1" y1="0" y2="0"><stop offset="0.000" stop-color="#04acea"/><stop offset="0.800" stop-color="#06aae9"/><stop offset="0.827" stop-color="#0ca4e7"/><stop offset="0.850" stop-color="#1e8fdc"/><stop offset="0.859" stop-color="#2383d6"/><stop offset="0.882" stop-color="#2a60c1"/><stop offset="0.904" stop-color="#394aae"/><stop offset="0.945" stop-color="#3f3da1"/><stop offset="0.999" stop-color="#40399c"/></linearGradient><linearGradient id="g73" x1="0" x2="1" y1="0" y2="0"><stop offset="0.000" stop-color="#04acea"/><stop offset="0.845" stop-color="#06aae9"/><stop offset="0.873" stop-color="#0ba5e8"/><stop offset="0.895" stop-color="#1c91de"/><stop offset="0.904" stop-color="#2386d8"/><stop offset="0.931" stop-color="#2c5ebf"/><stop offset="0.954" stop-color="#3949ad"/><stop offset="0.995" stop-color="#3f3da1"/><stop offset="0.999" stop-color="#3f3da1"/></linearGradient><linearGradient id="g74" x1="0" x2="1" y1="0" y2="0"><stop offset="0.000" stop-color="#04acea"/><stop offset="0.909" stop-color="#06aae9"/><stop offset="0.936" stop-color="#0ba5e7"/><stop offset="0.958" stop-color="#1d90dd"/><stop offset="0.967" stop-color="#2384d7"/><stop offset="0.990" stop-color="#2864c4"/><stop offset="0.999" stop-color="#2c5ebf"/></linearGradient><linearGradient id="g75" x1="0" x2="1" y1="0" y2="0"><stop offset="0.000" stop-color="#04acea"/><stop offset="0.999" stop-color="#06aae9"/></linearGradient><clipPath id="cpd"><rect x="377.3" y="192.6" width="221.2" height="222.4"/></clipPath><linearGradient id="g76" x1="0" x2="1" y1="0" y2="0"><stop offset="0.000" stop-color="#04acea"/><stop offset="0.009" stop-color="#04acea"/><stop offset="0.014" stop-color="#4cc0bc"/><stop offset="0.032" stop-color="#44bec2"/><stop offset="0.045" stop-color="#31bacf"/><stop offset="0.059" stop-color="#12b2e3"/><stop offset="0.063" stop-color="#0bb0e6"/><stop offset="0.095" stop-color="#04acea"/><stop offset="0.999" stop-color="#04acea"/></linearGradient><linearGradient id="g77" x1="0" x2="1" y1="0" y2="0"><stop offset="0.000" stop-color="#04acea"/><stop offset="0.009" stop-color="#04acea"/><stop offset="0.014" stop-color="#f3e039"/><stop offset="0.036" stop-color="#f1e23b"/><stop offset="0.054" stop-color="#e4e143"/><stop offset="0.063" stop-color="#d7df4c"/><stop offset="0.077" stop-color="#b3d66a"/><stop offset="0.086" stop-color="#93cf82"/><stop offset="0.095" stop-color="#6ec79c"/><stop offset="0.108" stop-color="#43bec2"/><stop offset="0.118" stop-color="#29b8d5"/><stop offset="0.127" stop-color="#13b2e2"/><stop offset="0.131" stop-color="#0bb0e6"/><stop offset="0.167" stop-color="#04acea"/><stop offset="0.999" stop-color="#04acea"/></linearGradient><linearGradient id="g78" x1="0" x2="1" y1="0" y2="0"><stop offset="0.000" stop-color="#04acea"/><stop offset="0.009" stop-color="#04acea"/><stop offset="0.014" stop-color="#f7c234"/><stop offset="0.063" stop-color="#f6d937"/><stop offset="0.090" stop-color="#efe23c"/><stop offset="0.108" stop-color="#d9e04b"/><stop offset="0.136" stop-color="#9ed27b"/><stop offset="0.154" stop-color="#6ec79c"/><stop offset="0.176" stop-color="#3bbcc8"/><stop offset="0.190" stop-color="#1cb5dd"/><stop offset="0.199" stop-color="#0cb0e6"/><stop offset="0.235" stop-color="#04acea"/><stop offset="0.999" stop-color="#04acea"/></linearGradient><linearGradient id="g79" x1="0" x2="1" y1="0" y2="0"><stop offset="0.000" stop-color="#04acea"/><stop offset="0.009" stop-color="#04acea"/><stop offset="0.014" stop-color="#de3c32"/><stop offset="0.032" stop-color="#e34431"/><stop offset="0.050" stop-color="#eb572e"/><stop offset="0.081" stop-color="#f39830"/><stop offset="0.095" stop-color="#f6b632"/><stop offset="0.118" stop-color="#f8d536"/><stop offset="0.140" stop-color="#f1e23a"/><stop offset="0.154" stop-color="#dae04a"/><stop offset="0.172" stop-color="#a9d473"/><stop offset="0.190" stop-color="#6bc69f"/><stop offset="0.203" stop-color="#46bec0"/><stop offset="0.217" stop-color="#22b6d9"/><stop offset="0.226" stop-color="#0eb1e5"/><stop offset="0.249" stop-color="#06ade9"/><stop offset="0.999" stop-color="#04acea"/></linearGradient><linearGradient id="g80" x1="0" x2="1" y1="0" y2="0"><stop offset="0.000" stop-color="#04acea"/><stop offset="0.009" stop-color="#04acea"/><stop offset="0.014" stop-color="#c83836"/><stop offset="0.054" stop-color="#dd3b33"/><stop offset="0.063" stop-color="#e24031"/><stop offset="0.086" stop-color="#ec5c2e"/><stop offset="0.131" stop-color="#f6b332"/><stop offset="0.163" stop-color="#f7d637"/><stop offset="0.181" stop-color="#f2e13a"/><stop offset="0.194" stop-color="#dbe04a"/><stop offset="0.212" stop-color="#a5d376"/><stop offset="0.226" stop-color="#72c898"/><stop offset="0.244" stop-color="#40bdc4"/><stop offset="0.258" stop-color="#1eb5dc"/><stop offset="0.267" stop-color="#0cb0e6"/><stop offset="0.303" stop-color="#04acea"/><stop offset="0.999" stop-color="#04acea"/></linearGradient><linearGradient id="g81" x1="0" x2="1" y1="0" y2="0"><stop offset="0.000" stop-color="#04acea"/><stop offset="0.009" stop-color="#04acea"/><stop offset="0.014" stop-color="#a83537"/><stop offset="0.054" stop-color="#b73737"/><stop offset="0.077" stop-color="#ca3836"/><stop offset="0.095" stop-color="#df3c32"/><stop offset="0.118" stop-color="#eb582e"/><stop offset="0.149" stop-color="#f2932f"/><stop offset="0.172" stop-color="#f6b532"/><stop offset="0.208" stop-color="#f7d637"/><stop offset="0.231" stop-color="#f1e23a"/><stop offset="0.244" stop-color="#d8df4c"/><stop offset="0.262" stop-color="#a3d378"/><stop offset="0.276" stop-color="#6fc79b"/><stop offset="0.289" stop-color="#48bfbf"/><stop offset="0.303" stop-color="#23b7d9"/><stop offset="0.312" stop-color="#0eb1e5"/><stop offset="0.335" stop-color="#05ade9"/><stop offset="0.999" stop-color="#04acea"/></linearGradient><linearGradient id="g82" x1="0" x2="1" y1="0" y2="0"><stop offset="0.000" stop-color="#04acea"/><stop offset="0.009" stop-color="#04acea"/><stop offset="0.014" stop-color="#b43737"/><stop offset="0.063" stop-color="#c93836"/><stop offset="0.086" stop-color="#d93b33"/><stop offset="0.095" stop-color="#e13f32"/><stop offset="0.122" stop-color="#ed622e"/><stop offset="0.167" stop-color="#f5ac31"/><stop offset="0.194" stop-color="#f7c834"/><stop offset="0.217" stop-color="#f7d637"/><stop offset="0.249" stop-color="#f2e23a"/><stop offset="0.267" stop-color="#dde048"/><stop offset="0.280" stop-color="#c1d95f"/><stop offset="0.294" stop-color="#9ed27b"/><stop offset="0.307" stop-color="#70c899"/><stop offset="0.325" stop-color="#41bdc4"/><stop offset="0.339" stop-color="#1eb5dc"/><stop offset="0.348" stop-color="#0cb0e6"/><stop offset="0.384" stop-color="#04acea"/><stop offset="0.999" stop-color="#04acea"/></linearGradient><linearGradient id="g83" x1="0" x2="1" y1="0" y2="0"><stop offset="0.000" stop-color="#04acea"/><stop offset="0.009" stop-color="#04acea"/><stop offset="0.014" stop-color="#d63a34"/><stop offset="0.063" stop-color="#e13f32"/><stop offset="0.104" stop-color="#e84f2f"/><stop offset="0.118" stop-color="#ec5c2e"/><stop offset="0.158" stop-color="#f29630"/><stop offset="0.185" stop-color="#f6ba33"/><stop offset="0.222" stop-color="#f8d436"/><stop offset="0.267" stop-color="#f0e23b"/><stop offset="0.285" stop-color="#d9e04b"/><stop offset="0.303" stop-color="#afd56d"/><stop offset="0.312" stop-color="#95d081"/><stop offset="0.325" stop-color="#66c5a4"/><stop offset="0.339" stop-color="#3dbcc7"/><stop offset="0.353" stop-color="#16b3e0"/><stop offset="0.357" stop-color="#0cb0e6"/><stop offset="0.389" stop-color="#04acea"/><stop offset="0.999" stop-color="#04acea"/></linearGradient><linearGradient id="g84" x1="0" x2="1" y1="0" y2="0"><stop offset="0.000" stop-color="#04acea"/><stop offset="0.009" stop-color="#04acea"/><stop offset="0.014" stop-color="#ea562f"/><stop offset="0.041" stop-color="#ed622e"/><stop offset="0.081" stop-color="#ef7d2e"/><stop offset="0.131" stop-color="#f6b732"/><stop offset="0.167" stop-color="#f7c935"/><stop offset="0.212" stop-color="#f6d837"/><stop offset="0.258" stop-color="#f2e23a"/><stop offset="0.280" stop-color="#dce049"/><stop offset="0.303" stop-color="#b6d768"/><stop offset="0.312" stop-color="#a1d279"/><stop offset="0.330" stop-color="#63c5a6"/><stop offset="0.348" stop-color="#28b8d6"/><stop offset="0.357" stop-color="#0fb1e4"/><stop offset="0.371" stop-color="#07aee8"/><stop offset="0.439" stop-color="#04acea"/><stop offset="0.999" stop-color="#04acea"/></linearGradient><linearGradient id="g85" x1="0" x2="1" y1="0" y2="0"><stop offset="0.000" stop-color="#04acea"/><stop offset="0.009" stop-color="#04acea"/><stop offset="0.014" stop-color="#f8d336"/><stop offset="0.099" stop-color="#f7cb35"/><stop offset="0.199" stop-color="#f3e039"/><stop offset="0.217" stop-color="#eee23d"/><stop offset="0.249" stop-color="#d9e04b"/><stop offset="0.289" stop-color="#a2d278"/><stop offset="0.307" stop-color="#7aca92"/><stop offset="0.344" stop-color="#27b8d7"/><stop offset="0.353" stop-color="#12b2e3"/><stop offset="0.357" stop-color="#0bb0e6"/><stop offset="0.393" stop-color="#04acea"/><stop offset="0.999" stop-color="#04acea"/></linearGradient><linearGradient id="g86" x1="0" x2="1" y1="0" y2="0"><stop offset="0.000" stop-color="#04acea"/><stop offset="0.009" stop-color="#04acea"/><stop offset="0.014" stop-color="#cfdd53"/><stop offset="0.149" stop-color="#c1d95e"/><stop offset="0.176" stop-color="#b0d56d"/><stop offset="0.226" stop-color="#7aca93"/><stop offset="0.298" stop-color="#42bec3"/><stop offset="0.316" stop-color="#29b8d5"/><stop offset="0.330" stop-color="#11b1e3"/><stop offset="0.339" stop-color="#0aafe7"/><stop offset="0.375" stop-color="#04acea"/><stop offset="0.642" stop-color="#04acea"/><stop offset="0.999" stop-color="#04acea"/></linearGradient><linearGradient id="g87" x1="0" x2="1" y1="0" y2="0"><stop offset="0.000" stop-color="#04acea"/><stop offset="0.009" stop-color="#04acea"/><stop offset="0.014" stop-color="#65c5a4"/><stop offset="0.136" stop-color="#54c1b4"/><stop offset="0.258" stop-color="#27b8d7"/><stop offset="0.271" stop-color="#1ab4de"/><stop offset="0.280" stop-color="#0cb0e6"/><stop offset="0.316" stop-color="#04acea"/><stop offset="0.429" stop-color="#0ca3e7"/><stop offset="0.511" stop-color="#159ae2"/><stop offset="0.588" stop-color="#0fa1e5"/><stop offset="0.660" stop-color="#07a9e9"/><stop offset="0.999" stop-color="#04acea"/></linearGradient><linearGradient id="g88" x1="0" x2="1" y1="0" y2="0"><stop offset="0.000" stop-color="#04acea"/><stop offset="0.009" stop-color="#04acea"/><stop offset="0.014" stop-color="#28b8d6"/><stop offset="0.181" stop-color="#1ab4de"/><stop offset="0.208" stop-color="#0bb0e6"/><stop offset="0.271" stop-color="#04acea"/><stop offset="0.366" stop-color="#0ba5e8"/><stop offset="0.443" stop-color="#2289da"/><stop offset="0.520" stop-color="#247ed3"/><stop offset="0.592" stop-color="#2382d5"/><stop offset="0.642" stop-color="#1f8ddc"/><stop offset="0.714" stop-color="#09a7e8"/><stop offset="0.836" stop-color="#04acea"/><stop offset="0.999" stop-color="#04acea"/></linearGradient><linearGradient id="g89" x1="0" x2="1" y1="0" y2="0"><stop offset="0.000" stop-color="#04acea"/><stop offset="0.312" stop-color="#07a9e9"/><stop offset="0.344" stop-color="#0ca4e7"/><stop offset="0.398" stop-color="#2288d9"/><stop offset="0.452" stop-color="#266fca"/><stop offset="0.493" stop-color="#3157b9"/><stop offset="0.529" stop-color="#394baf"/><stop offset="0.583" stop-color="#394baf"/><stop offset="0.624" stop-color="#2e5abc"/><stop offset="0.660" stop-color="#2670cb"/><stop offset="0.719" stop-color="#218bdb"/><stop offset="0.778" stop-color="#09a7e8"/><stop offset="0.882" stop-color="#04acea"/><stop offset="0.999" stop-color="#04acea"/></linearGradient><linearGradient id="g90" x1="0" x2="1" y1="0" y2="0"><stop offset="0.000" stop-color="#04acea"/><stop offset="0.303" stop-color="#07a9e9"/><stop offset="0.330" stop-color="#0ca4e7"/><stop offset="0.375" stop-color="#2289d9"/><stop offset="0.411" stop-color="#2671cb"/><stop offset="0.429" stop-color="#2c5ebf"/><stop offset="0.452" stop-color="#394aae"/><stop offset="0.488" stop-color="#3f3da1"/><stop offset="0.561" stop-color="#40389a"/><stop offset="0.665" stop-color="#3e3ea2"/><stop offset="0.701" stop-color="#384cb0"/><stop offset="0.728" stop-color="#2866c5"/><stop offset="0.750" stop-color="#247bd1"/><stop offset="0.782" stop-color="#1f8ddc"/><stop offset="0.827" stop-color="#09a7e8"/><stop offset="0.918" stop-color="#04acea"/><stop offset="0.999" stop-color="#04acea"/></linearGradient><linearGradient id="g91" x1="0" x2="1" y1="0" y2="0"><stop offset="0.000" stop-color="#04acea"/><stop offset="0.303" stop-color="#07a9e9"/><stop offset="0.330" stop-color="#0da2e6"/><stop offset="0.366" stop-color="#2289d9"/><stop offset="0.393" stop-color="#2673cd"/><stop offset="0.411" stop-color="#2d5dbe"/><stop offset="0.429" stop-color="#3949ad"/><stop offset="0.461" stop-color="#3f3b9f"/><stop offset="0.520" stop-color="#3f3694"/><stop offset="0.597" stop-color="#3f3694"/><stop offset="0.728" stop-color="#3f3ca0"/><stop offset="0.759" stop-color="#394aae"/><stop offset="0.787" stop-color="#2769c7"/><stop offset="0.809" stop-color="#247fd4"/><stop offset="0.827" stop-color="#218cdb"/><stop offset="0.868" stop-color="#0aa6e8"/><stop offset="0.945" stop-color="#04acea"/><stop offset="0.999" stop-color="#04acea"/></linearGradient><linearGradient id="g92" x1="0" x2="1" y1="0" y2="0"><stop offset="0.000" stop-color="#04acea"/><stop offset="0.307" stop-color="#07a9e9"/><stop offset="0.330" stop-color="#0ca4e7"/><stop offset="0.366" stop-color="#2289d9"/><stop offset="0.389" stop-color="#2574ce"/><stop offset="0.402" stop-color="#2a61c2"/><stop offset="0.420" stop-color="#394baf"/><stop offset="0.448" stop-color="#3f3ca0"/><stop offset="0.556" stop-color="#3f3188"/><stop offset="0.606" stop-color="#3f3188"/><stop offset="0.710" stop-color="#403899"/><stop offset="0.782" stop-color="#3f3da1"/><stop offset="0.809" stop-color="#384cb0"/><stop offset="0.832" stop-color="#2769c7"/><stop offset="0.850" stop-color="#247ed3"/><stop offset="0.868" stop-color="#208cdb"/><stop offset="0.904" stop-color="#0ba5e8"/><stop offset="0.967" stop-color="#04acea"/><stop offset="0.999" stop-color="#04acea"/></linearGradient><linearGradient id="g93" x1="0" x2="1" y1="0" y2="0"><stop offset="0.000" stop-color="#04acea"/><stop offset="0.316" stop-color="#06aae9"/><stop offset="0.339" stop-color="#0ca4e7"/><stop offset="0.375" stop-color="#2287d8"/><stop offset="0.398" stop-color="#266fca"/><stop offset="0.411" stop-color="#2e5bbc"/><stop offset="0.425" stop-color="#3949ad"/><stop offset="0.448" stop-color="#3f3da1"/><stop offset="0.542" stop-color="#3e3187"/><stop offset="0.592" stop-color="#3e2b78"/><stop offset="0.633" stop-color="#3e2d7b"/><stop offset="0.719" stop-color="#3f3795"/><stop offset="0.818" stop-color="#3f3ca0"/><stop offset="0.845" stop-color="#394aae"/><stop offset="0.868" stop-color="#2867c6"/><stop offset="0.886" stop-color="#247ed3"/><stop offset="0.904" stop-color="#1f8ddc"/><stop offset="0.940" stop-color="#0aa6e8"/><stop offset="0.999" stop-color="#04acea"/></linearGradient><linearGradient id="g94" x1="0" x2="1" y1="0" y2="0"><stop offset="0.000" stop-color="#04acea"/><stop offset="0.330" stop-color="#06aae9"/><stop offset="0.353" stop-color="#0ca4e7"/><stop offset="0.384" stop-color="#228ada"/><stop offset="0.407" stop-color="#2672cc"/><stop offset="0.420" stop-color="#2d5dbe"/><stop offset="0.434" stop-color="#394aae"/><stop offset="0.457" stop-color="#3f3da1"/><stop offset="0.542" stop-color="#3f338b"/><stop offset="0.610" stop-color="#3d286f"/><stop offset="0.642" stop-color="#3d276e"/><stop offset="0.692" stop-color="#3e2f81"/><stop offset="0.746" stop-color="#3f3694"/><stop offset="0.850" stop-color="#3f3ca0"/><stop offset="0.873" stop-color="#3b46aa"/><stop offset="0.886" stop-color="#3254b7"/><stop offset="0.900" stop-color="#2767c6"/><stop offset="0.918" stop-color="#247fd4"/><stop offset="0.936" stop-color="#1e8fdc"/><stop offset="0.967" stop-color="#0aa6e8"/><stop offset="0.999" stop-color="#06aae9"/></linearGradient><linearGradient id="g95" x1="0" x2="1" y1="0" y2="0"><stop offset="0.000" stop-color="#04acea"/><stop offset="0.348" stop-color="#06aae9"/><stop offset="0.371" stop-color="#0ca4e7"/><stop offset="0.402" stop-color="#228ada"/><stop offset="0.420" stop-color="#2576cf"/><stop offset="0.434" stop-color="#2a61c1"/><stop offset="0.448" stop-color="#384cb0"/><stop offset="0.470" stop-color="#3e3da1"/><stop offset="0.533" stop-color="#3f3795"/><stop offset="0.588" stop-color="#3e2f82"/><stop offset="0.637" stop-color="#3d276e"/><stop offset="0.669" stop-color="#3d276e"/><stop offset="0.728" stop-color="#3e3186"/><stop offset="0.778" stop-color="#3f3796"/><stop offset="0.877" stop-color="#3f3ca0"/><stop offset="0.900" stop-color="#3b46aa"/><stop offset="0.913" stop-color="#3255b8"/><stop offset="0.927" stop-color="#2769c7"/><stop offset="0.945" stop-color="#2381d5"/><stop offset="0.958" stop-color="#208cdb"/><stop offset="0.990" stop-color="#0ba4e7"/><stop offset="0.999" stop-color="#09a7e8"/></linearGradient><linearGradient id="g96" x1="0" x2="1" y1="0" y2="0"><stop offset="0.000" stop-color="#04acea"/><stop offset="0.371" stop-color="#06aae9"/><stop offset="0.393" stop-color="#0ca4e7"/><stop offset="0.425" stop-color="#2289d9"/><stop offset="0.443" stop-color="#2575ce"/><stop offset="0.457" stop-color="#2b5fc0"/><stop offset="0.470" stop-color="#384baf"/><stop offset="0.493" stop-color="#3f3da1"/><stop offset="0.592" stop-color="#3f348e"/><stop offset="0.665" stop-color="#3d2b77"/><stop offset="0.701" stop-color="#3e2c79"/><stop offset="0.791" stop-color="#3f3795"/><stop offset="0.900" stop-color="#3f3ca0"/><stop offset="0.922" stop-color="#3a47ab"/><stop offset="0.936" stop-color="#3157b9"/><stop offset="0.949" stop-color="#276bc8"/><stop offset="0.967" stop-color="#2382d5"/><stop offset="0.981" stop-color="#1f8ddc"/><stop offset="0.999" stop-color="#1599e2"/></linearGradient><linearGradient id="g97" x1="0" x2="1" y1="0" y2="0"><stop offset="0.000" stop-color="#04acea"/><stop offset="0.393" stop-color="#06aae9"/><stop offset="0.420" stop-color="#0da3e6"/><stop offset="0.452" stop-color="#2288d9"/><stop offset="0.470" stop-color="#2674cd"/><stop offset="0.484" stop-color="#2c5ebf"/><stop offset="0.497" stop-color="#394baf"/><stop offset="0.520" stop-color="#3f3da1"/><stop offset="0.579" stop-color="#403898"/><stop offset="0.701" stop-color="#3e3085"/><stop offset="0.764" stop-color="#3f348e"/><stop offset="0.841" stop-color="#40389a"/><stop offset="0.913" stop-color="#403b9f"/><stop offset="0.936" stop-color="#3b45a9"/><stop offset="0.949" stop-color="#3452b5"/><stop offset="0.963" stop-color="#2865c4"/><stop offset="0.976" stop-color="#2579d0"/><stop offset="0.995" stop-color="#2288d9"/><stop offset="0.999" stop-color="#228ada"/></linearGradient><linearGradient id="g98" x1="0" x2="1" y1="0" y2="0"><stop offset="0.000" stop-color="#04acea"/><stop offset="0.425" stop-color="#06aae9"/><stop offset="0.448" stop-color="#0ba5e7"/><stop offset="0.484" stop-color="#2287d8"/><stop offset="0.502" stop-color="#2673cd"/><stop offset="0.515" stop-color="#2c5ebf"/><stop offset="0.529" stop-color="#394baf"/><stop offset="0.552" stop-color="#3f3da1"/><stop offset="0.606" stop-color="#40389a"/><stop offset="0.737" stop-color="#3f3591"/><stop offset="0.922" stop-color="#403b9f"/><stop offset="0.949" stop-color="#3b46aa"/><stop offset="0.963" stop-color="#3354b7"/><stop offset="0.976" stop-color="#2867c6"/><stop offset="0.990" stop-color="#2579d0"/><stop offset="0.999" stop-color="#247fd4"/></linearGradient><linearGradient id="g99" x1="0" x2="1" y1="0" y2="0"><stop offset="0.000" stop-color="#04acea"/><stop offset="0.457" stop-color="#06aae9"/><stop offset="0.484" stop-color="#0ca3e7"/><stop offset="0.515" stop-color="#228ada"/><stop offset="0.538" stop-color="#2574cd"/><stop offset="0.552" stop-color="#2b60c0"/><stop offset="0.570" stop-color="#3949ad"/><stop offset="0.592" stop-color="#3f3da1"/><stop offset="0.651" stop-color="#40389a"/><stop offset="0.805" stop-color="#403898"/><stop offset="0.922" stop-color="#403a9e"/><stop offset="0.949" stop-color="#3c42a6"/><stop offset="0.963" stop-color="#384baf"/><stop offset="0.986" stop-color="#276ac7"/><stop offset="0.999" stop-color="#2578d0"/></linearGradient><linearGradient id="g100" x1="0" x2="1" y1="0" y2="0"><stop offset="0.000" stop-color="#04acea"/><stop offset="0.493" stop-color="#06aae9"/><stop offset="0.520" stop-color="#0ba5e7"/><stop offset="0.561" stop-color="#2287d8"/><stop offset="0.583" stop-color="#2671cc"/><stop offset="0.597" stop-color="#2c5ebf"/><stop offset="0.615" stop-color="#3949ad"/><stop offset="0.642" stop-color="#3f3ca0"/><stop offset="0.710" stop-color="#40399a"/><stop offset="0.913" stop-color="#403a9d"/><stop offset="0.945" stop-color="#3d40a4"/><stop offset="0.963" stop-color="#384cb0"/><stop offset="0.986" stop-color="#2768c6"/><stop offset="0.999" stop-color="#2576ce"/></linearGradient><linearGradient id="g101" x1="0" x2="1" y1="0" y2="0"><stop offset="0.000" stop-color="#04acea"/><stop offset="0.538" stop-color="#06aae9"/><stop offset="0.565" stop-color="#0ba4e7"/><stop offset="0.606" stop-color="#2289d9"/><stop offset="0.633" stop-color="#2574cd"/><stop offset="0.651" stop-color="#2c5ebf"/><stop offset="0.669" stop-color="#394aae"/><stop offset="0.701" stop-color="#3f3da1"/><stop offset="0.787" stop-color="#40399b"/><stop offset="0.904" stop-color="#403a9e"/><stop offset="0.940" stop-color="#3c44a8"/><stop offset="0.958" stop-color="#3551b4"/><stop offset="0.976" stop-color="#2865c5"/><stop offset="0.995" stop-color="#2578d0"/><stop offset="0.999" stop-color="#247ad1"/></linearGradient><linearGradient id="g102" x1="0" x2="1" y1="0" y2="0"><stop offset="0.000" stop-color="#04acea"/><stop offset="0.588" stop-color="#06aae9"/><stop offset="0.619" stop-color="#0ca3e7"/><stop offset="0.665" stop-color="#2288d9"/><stop offset="0.705" stop-color="#266eca"/><stop offset="0.728" stop-color="#2f5abc"/><stop offset="0.750" stop-color="#3949ad"/><stop offset="0.796" stop-color="#3e3ea2"/><stop offset="0.877" stop-color="#3e3ea2"/><stop offset="0.922" stop-color="#384baf"/><stop offset="0.958" stop-color="#276ac7"/><stop offset="0.986" stop-color="#247ed3"/><stop offset="0.999" stop-color="#2383d6"/></linearGradient><linearGradient id="g103" x1="0" x2="1" y1="0" y2="0"><stop offset="0.000" stop-color="#04acea"/><stop offset="0.642" stop-color="#06aae9"/><stop offset="0.683" stop-color="#0da3e6"/><stop offset="0.741" stop-color="#2288d9"/><stop offset="0.841" stop-color="#276cc9"/><stop offset="0.886" stop-color="#266eca"/><stop offset="0.986" stop-color="#218cdb"/><stop offset="0.999" stop-color="#1d90dd"/></linearGradient><linearGradient id="g104" x1="0" x2="1" y1="0" y2="0"><stop offset="0.000" stop-color="#04acea"/><stop offset="0.714" stop-color="#06aae9"/><stop offset="0.769" stop-color="#0da2e6"/><stop offset="0.845" stop-color="#1d90dd"/><stop offset="0.909" stop-color="#1e8fdc"/><stop offset="0.986" stop-color="#109fe5"/><stop offset="0.999" stop-color="#0da2e6"/></linearGradient><linearGradient id="g105" x1="0" x2="1" y1="0" y2="0"><stop offset="0.000" stop-color="#04acea"/><stop offset="0.823" stop-color="#06aae9"/><stop offset="0.995" stop-color="#06aae9"/><stop offset="0.999" stop-color="#06aae9"/></linearGradient><linearGradient id="cbg" x1="0" x2="1" y1="0" y2="0"><stop offset="0.000" stop-color="#2c182c"/><stop offset="0.013" stop-color="#311b3d"/><stop offset="0.025" stop-color="#371f4f"/><stop offset="0.038" stop-color="#3c2260"/><stop offset="0.050" stop-color="#3d286f"/><stop offset="0.062" stop-color="#3e2e7f"/><stop offset="0.075" stop-color="#3f348f"/><stop offset="0.087" stop-color="#403a9e"/><stop offset="0.100" stop-color="#3e3ea2"/><stop offset="0.112" stop-color="#3c43a7"/><stop offset="0.125" stop-color="#3a48ac"/><stop offset="0.138" stop-color="#384cb0"/><stop offset="0.150" stop-color="#3354b7"/><stop offset="0.163" stop-color="#2d5cbd"/><stop offset="0.175" stop-color="#2864c4"/><stop offset="0.188" stop-color="#2671cb"/><stop offset="0.200" stop-color="#247dd3"/><stop offset="0.212" stop-color="#228ada"/><stop offset="0.225" stop-color="#1698e1"/><stop offset="0.237" stop-color="#0aa6e8"/><stop offset="0.250" stop-color="#04acea"/><stop offset="0.263" stop-color="#06ade9"/><stop offset="0.275" stop-color="#08aee8"/><stop offset="0.287" stop-color="#0bafe7"/><stop offset="0.300" stop-color="#11b1e3"/><stop offset="0.312" stop-color="#1cb5dd"/><stop offset="0.325" stop-color="#28b8d6"/><stop offset="0.338" stop-color="#35bbcd"/><stop offset="0.350" stop-color="#41bdc3"/><stop offset="0.362" stop-color="#4ec0ba"/><stop offset="0.375" stop-color="#5ac3af"/><stop offset="0.388" stop-color="#66c5a3"/><stop offset="0.400" stop-color="#72c898"/><stop offset="0.412" stop-color="#81cb8e"/><stop offset="0.425" stop-color="#91cf84"/><stop offset="0.438" stop-color="#a0d27a"/><stop offset="0.450" stop-color="#acd570"/><stop offset="0.463" stop-color="#b8d766"/><stop offset="0.475" stop-color="#c4da5c"/><stop offset="0.487" stop-color="#cfdd53"/><stop offset="0.500" stop-color="#dae04a"/><stop offset="0.512" stop-color="#e2e145"/><stop offset="0.525" stop-color="#eae13f"/><stop offset="0.537" stop-color="#f2e23a"/><stop offset="0.550" stop-color="#f3df39"/><stop offset="0.562" stop-color="#f4dc38"/><stop offset="0.575" stop-color="#f6da38"/><stop offset="0.588" stop-color="#f7d737"/><stop offset="0.600" stop-color="#f8d436"/><stop offset="0.613" stop-color="#f8cf35"/><stop offset="0.625" stop-color="#f7c935"/><stop offset="0.637" stop-color="#f7c434"/><stop offset="0.650" stop-color="#f7bf33"/><stop offset="0.662" stop-color="#f6b933"/><stop offset="0.675" stop-color="#f6b432"/><stop offset="0.688" stop-color="#f5ac31"/><stop offset="0.700" stop-color="#f4a431"/><stop offset="0.713" stop-color="#f39c30"/><stop offset="0.725" stop-color="#f2942f"/><stop offset="0.738" stop-color="#f18c2f"/><stop offset="0.750" stop-color="#f0842e"/><stop offset="0.762" stop-color="#ef7c2e"/><stop offset="0.775" stop-color="#ee732e"/><stop offset="0.787" stop-color="#ee6b2e"/><stop offset="0.800" stop-color="#ed622e"/><stop offset="0.812" stop-color="#ec5a2e"/><stop offset="0.825" stop-color="#ea542f"/><stop offset="0.838" stop-color="#e74e30"/><stop offset="0.850" stop-color="#e54830"/><stop offset="0.863" stop-color="#e24231"/><stop offset="0.875" stop-color="#e03c32"/><stop offset="0.887" stop-color="#db3b33"/><stop offset="0.900" stop-color="#d53a34"/><stop offset="0.912" stop-color="#d03935"/><stop offset="0.925" stop-color="#ca3836"/><stop offset="0.938" stop-color="#c43836"/><stop offset="0.950" stop-color="#be3737"/><stop offset="0.963" stop-color="#b83737"/><stop offset="0.975" stop-color="#b23638"/><stop offset="0.988" stop-color="#ac3638"/><stop offset="1.000" stop-color="#a63437"/></linearGradient></defs>
<rect width="600" height="464" fill="#ffffff"/>
<g clip-path="url(#cpa)"><g filter="url(#vb)"><rect x="57.3" y="1.4" width="227.4" height="159.6" fill="#04acea"/><rect x="60.3" y="4.4" width="221.4" height="153.6" fill="#04acea"/><rect x="60.3" y="9.50" width="221.4" height="6.80" fill="url(#g1)"/><rect x="60.3" y="15.30" width="221.4" height="6.80" fill="url(#g2)"/><rect x="60.3" y="21.10" width="221.4" height="6.80" fill="url(#g3)"/><rect x="60.3" y="26.90" width="221.4" height="6.80" fill="url(#g4)"/><rect x="60.3" y="32.70" width="221.4" height="6.80" fill="url(#g5)"/><rect x="60.3" y="38.50" width="221.4" height="6.80" fill="url(#g6)"/><rect x="60.3" y="44.30" width="221.4" height="6.80" fill="url(#g7)"/><rect x="60.3" y="50.10" width="221.4" height="6.80" fill="url(#g8)"/><rect x="60.3" y="55.90" width="221.4" height="6.80" fill="url(#g9)"/><rect x="60.3" y="61.70" width="221.4" height="6.80" fill="url(#g10)"/><rect x="60.3" y="67.50" width="221.4" height="6.80" fill="url(#g11)"/><rect x="60.3" y="73.30" width="221.4" height="6.80" fill="url(#g12)"/><rect x="60.3" y="79.10" width="221.4" height="6.80" fill="url(#g13)"/><rect x="60.3" y="84.90" width="221.4" height="6.80" fill="url(#g14)"/><rect x="60.3" y="90.70" width="221.4" height="6.80" fill="url(#g15)"/><rect x="60.3" y="96.50" width="221.4" height="6.80" fill="url(#g16)"/><rect x="60.3" y="102.30" width="221.4" height="6.80" fill="url(#g17)"/><rect x="60.3" y="108.10" width="221.4" height="6.80" fill="url(#g18)"/><rect x="60.3" y="113.90" width="221.4" height="6.80" fill="url(#g19)"/><rect x="60.3" y="119.70" width="221.4" height="6.80" fill="url(#g20)"/><rect x="60.3" y="125.50" width="221.4" height="6.80" fill="url(#g21)"/><rect x="60.3" y="131.30" width="221.4" height="6.80" fill="url(#g22)"/><rect x="60.3" y="137.10" width="221.4" height="6.80" fill="url(#g23)"/></g></g><g clip-path="url(#cpb)"><g filter="url(#vb)"><rect x="57.3" y="155.0" width="227.4" height="159.0" fill="#04acea"/><rect x="60.3" y="158.0" width="221.4" height="153.0" fill="#04acea"/><rect x="60.3" y="176.10" width="221.4" height="6.65" fill="url(#g24)"/><rect x="60.3" y="181.75" width="221.4" height="6.65" fill="url(#g25)"/><rect x="60.3" y="187.40" width="221.4" height="6.65" fill="url(#g26)"/><rect x="60.3" y="193.05" width="221.4" height="6.65" fill="url(#g27)"/><rect x="60.3" y="198.70" width="221.4" height="6.65" fill="url(#g28)"/><rect x="60.3" y="204.35" width="221.4" height="6.65" fill="url(#g29)"/><rect x="60.3" y="210.00" width="221.4" height="6.65" fill="url(#g30)"/><rect x="60.3" y="215.65" width="221.4" height="6.65" fill="url(#g31)"/><rect x="60.3" y="221.30" width="221.4" height="6.65" fill="url(#g32)"/><rect x="60.3" y="226.95" width="221.4" height="6.65" fill="url(#g33)"/><rect x="60.3" y="232.60" width="221.4" height="6.65" fill="url(#g34)"/><rect x="60.3" y="238.25" width="221.4" height="6.65" fill="url(#g35)"/><rect x="60.3" y="243.90" width="221.4" height="6.65" fill="url(#g36)"/><rect x="60.3" y="249.55" width="221.4" height="6.65" fill="url(#g37)"/><rect x="60.3" y="255.20" width="221.4" height="6.65" fill="url(#g38)"/><rect x="60.3" y="260.85" width="221.4" height="6.65" fill="url(#g39)"/><rect x="60.3" y="266.50" width="221.4" height="6.65" fill="url(#g40)"/><rect x="60.3" y="272.15" width="221.4" height="6.65" fill="url(#g41)"/><rect x="60.3" y="277.80" width="221.4" height="6.65" fill="url(#g42)"/><rect x="60.3" y="283.45" width="221.4" height="6.65" fill="url(#g43)"/><rect x="60.3" y="289.10" width="221.4" height="6.65" fill="url(#g44)"/><rect x="60.3" y="294.75" width="221.4" height="6.65" fill="url(#g45)"/><rect x="60.3" y="300.40" width="221.4" height="6.65" fill="url(#g46)"/><rect x="60.3" y="306.05" width="221.4" height="6.65" fill="url(#g47)"/></g></g><g clip-path="url(#cpc)"><g filter="url(#vb)"><rect x="374.3" y="1.4" width="227.2" height="194.2" fill="#04acea"/><rect x="377.3" y="4.4" width="221.2" height="188.2" fill="#04acea"/><rect x="377.3" y="28.50" width="221.2" height="6.70" fill="url(#g48)"/><rect x="377.3" y="34.20" width="221.2" height="6.70" fill="url(#g49)"/><rect x="377.3" y="39.90" width="221.2" height="6.70" fill="url(#g50)"/><rect x="377.3" y="45.60" width="221.2" height="6.70" fill="url(#g51)"/><rect x="377.3" y="51.30" width="221.2" height="6.70" fill="url(#g52)"/><rect x="377.3" y="57.00" width="221.2" height="6.70" fill="url(#g53)"/><rect x="377.3" y="62.70" width="221.2" height="6.70" fill="url(#g54)"/><rect x="377.3" y="68.40" width="221.2" height="6.70" fill="url(#g55)"/><rect x="377.3" y="74.10" width="221.2" height="6.70" fill="url(#g56)"/><rect x="377.3" y="79.80" width="221.2" height="6.70" fill="url(#g57)"/><rect x="377.3" y="85.50" width="221.2" height="6.70" fill="url(#g58)"/><rect x="377.3" y="91.20" width="221.2" height="6.70" fill="url(#g59)"/><rect x="377.3" y="96.90" width="221.2" height="6.70" fill="url(#g60)"/><rect x="377.3" y="102.60" width="221.2" height="6.70" fill="url(#g61)"/><rect x="377.3" y="108.30" width="221.2" height="6.70" fill="url(#g62)"/><rect x="377.3" y="114.00" width="221.2" height="6.70" fill="url(#g63)"/><rect x="377.3" y="119.70" width="221.2" height="6.70" fill="url(#g64)"/><rect x="377.3" y="125.40" width="221.2" height="6.70" fill="url(#g65)"/><rect x="377.3" y="131.10" width="221.2" height="6.70" fill="url(#g66)"/><rect x="377.3" y="136.80" width="221.2" height="6.70" fill="url(#g67)"/><rect x="377.3" y="142.50" width="221.2" height="6.70" fill="url(#g68)"/><rect x="377.3" y="148.20" width="221.2" height="6.70" fill="url(#g69)"/><rect x="377.3" y="153.90" width="221.2" height="6.70" fill="url(#g70)"/><rect x="377.3" y="159.60" width="221.2" height="6.70" fill="url(#g71)"/><rect x="377.3" y="165.30" width="221.2" height="6.70" fill="url(#g72)"/><rect x="377.3" y="171.00" width="221.2" height="6.70" fill="url(#g73)"/><rect x="377.3" y="176.70" width="221.2" height="6.70" fill="url(#g74)"/><rect x="377.3" y="182.40" width="221.2" height="6.70" fill="url(#g75)"/></g></g><g clip-path="url(#cpd)"><g filter="url(#vb)"><rect x="374.3" y="189.6" width="227.2" height="228.4" fill="#04acea"/><rect x="377.3" y="192.6" width="221.2" height="222.4" fill="#04acea"/><rect x="377.3" y="209.85" width="221.2" height="6.75" fill="url(#g76)"/><rect x="377.3" y="215.60" width="221.2" height="6.75" fill="url(#g77)"/><rect x="377.3" y="221.35" width="221.2" height="6.75" fill="url(#g78)"/><rect x="377.3" y="227.10" width="221.2" height="6.75" fill="url(#g79)"/><rect x="377.3" y="232.85" width="221.2" height="6.75" fill="url(#g80)"/><rect x="377.3" y="238.60" width="221.2" height="6.75" fill="url(#g81)"/><rect x="377.3" y="244.35" width="221.2" height="6.75" fill="url(#g82)"/><rect x="377.3" y="250.10" width="221.2" height="6.75" fill="url(#g83)"/><rect x="377.3" y="255.85" width="221.2" height="6.75" fill="url(#g84)"/><rect x="377.3" y="261.60" width="221.2" height="6.75" fill="url(#g85)"/><rect x="377.3" y="267.35" width="221.2" height="6.75" fill="url(#g86)"/><rect x="377.3" y="273.10" width="221.2" height="6.75" fill="url(#g87)"/><rect x="377.3" y="278.85" width="221.2" height="6.75" fill="url(#g88)"/><rect x="377.3" y="284.60" width="221.2" height="6.75" fill="url(#g89)"/><rect x="377.3" y="290.35" width="221.2" height="6.75" fill="url(#g90)"/><rect x="377.3" y="296.10" width="221.2" height="6.75" fill="url(#g91)"/><rect x="377.3" y="301.85" width="221.2" height="6.75" fill="url(#g92)"/><rect x="377.3" y="307.60" width="221.2" height="6.75" fill="url(#g93)"/><rect x="377.3" y="313.35" width="221.2" height="6.75" fill="url(#g94)"/><rect x="377.3" y="319.10" width="221.2" height="6.75" fill="url(#g95)"/><rect x="377.3" y="324.85" width="221.2" height="6.75" fill="url(#g96)"/><rect x="377.3" y="330.60" width="221.2" height="6.75" fill="url(#g97)"/><rect x="377.3" y="336.35" width="221.2" height="6.75" fill="url(#g98)"/><rect x="377.3" y="342.10" width="221.2" height="6.75" fill="url(#g99)"/><rect x="377.3" y="347.85" width="221.2" height="6.75" fill="url(#g100)"/><rect x="377.3" y="353.60" width="221.2" height="6.75" fill="url(#g101)"/><rect x="377.3" y="359.35" width="221.2" height="6.75" fill="url(#g102)"/><rect x="377.3" y="365.10" width="221.2" height="6.75" fill="url(#g103)"/><rect x="377.3" y="370.85" width="221.2" height="6.75" fill="url(#g104)"/><rect x="377.3" y="376.60" width="221.2" height="6.75" fill="url(#g105)"/></g></g><rect x="63.6" y="16.2" width="3.2" height="5.6" fill="#a6cf84"/><rect x="64.2" y="22" width="2.2" height="6" fill="#2a86cc" opacity="0.7"/>
<polyline points="64.0,330.2 66.5,331.0 69.9,331.8 75.8,334.5 81.7,337.3 87.6,339.0 93.6,340.8 99.5,343.2 105.4,345.6 111.3,347.3 117.3,349.1 123.2,350.9 129.1,353.2 131.8,355.0 134.5,354.2 139.4,355.6 147.0,357.2 152.9,358.6 158.8,360.4 164.7,362.2 170.0,364.5 176.0,365.7 181.9,366.9 186.5,369.0 191.3,371.2 198.4,372.4 205.6,373.6 217.4,376.2 229.3,378.8 235.2,380.0 241.1,381.1 247.0,382.0 253.0,383.0 259.0,383.9 264.9,384.7 273.0,385.6 281.5,386.4" fill="none" stroke="#3b3f98" stroke-width="1.5" stroke-linejoin="round"/><polyline points="63.2,327.8 66.0,328.2 69.9,329.0 75.0,332.0 81.7,336.0 87.6,339.5 93.6,343.2 99.5,346.0 105.4,349.1 111.3,352.6 117.3,356.2 123.2,358.7 129.1,361.6 135.0,364.6 141.0,367.6 147.0,370.4 152.9,373.0 158.8,377.0 164.7,381.1 170.0,383.5 176.0,387.2 181.9,390.6 187.8,392.6 193.7,394.2 199.6,396.3 205.6,398.2 211.5,399.5 217.4,400.6 223.3,401.6 229.3,402.5 235.2,403.5 241.1,404.4 247.0,405.0 253.0,405.6 259.0,406.0 264.9,406.3 273.0,406.6 281.5,406.8" fill="none" stroke="#1e9a55" stroke-width="1.5" stroke-linejoin="round"/><polyline points="62.3,392.3 62.6,360.0 63.4,335.0 64.0,330.0 69.9,333.7 75.0,338.0 81.7,344.4 87.6,347.5 93.6,352.7 99.0,358.0 105.4,364.5 111.0,369.5 117.3,373.4 123.0,377.3 129.1,381.6 135.0,385.6 141.0,389.4 147.0,393.3 152.9,396.2 158.8,398.6 164.7,401.0 170.0,402.5 175.0,404.2 181.9,405.3 187.8,406.5 193.7,407.2 205.6,407.7 211.5,407.5 217.4,406.7 223.3,406.0 229.3,405.3 235.2,404.8 241.1,404.1 247.0,403.0 253.0,402.0 259.0,401.0 264.9,400.1 273.0,398.4 281.5,396.6" fill="none" stroke="#e0393a" stroke-width="1.5" stroke-linejoin="round"/>
<rect x="60.30" y="4.40" width="221.40" height="153.60" fill="none" stroke="#2b2b2b" stroke-width="1.6"/><line x1="63.00" y1="4.40" x2="63.00" y2="13.40" stroke="#2b2b2b" stroke-width="1.5" /><line x1="63.00" y1="158.00" x2="63.00" y2="149.00" stroke="#2b2b2b" stroke-width="1.5" /><line x1="100.78" y1="4.40" x2="100.78" y2="13.40" stroke="#2b2b2b" stroke-width="1.5" /><line x1="100.78" y1="158.00" x2="100.78" y2="149.00" stroke="#2b2b2b" stroke-width="1.5" /><line x1="138.56" y1="4.40" x2="138.56" y2="13.40" stroke="#2b2b2b" stroke-width="1.5" /><line x1="138.56" y1="158.00" x2="138.56" y2="149.00" stroke="#2b2b2b" stroke-width="1.5" /><line x1="176.34" y1="4.40" x2="176.34" y2="13.40" stroke="#2b2b2b" stroke-width="1.5" /><line x1="176.34" y1="158.00" x2="176.34" y2="149.00" stroke="#2b2b2b" stroke-width="1.5" /><line x1="214.12" y1="4.40" x2="214.12" y2="13.40" stroke="#2b2b2b" stroke-width="1.5" /><line x1="214.12" y1="158.00" x2="214.12" y2="149.00" stroke="#2b2b2b" stroke-width="1.5" /><line x1="251.90" y1="4.40" x2="251.90" y2="13.40" stroke="#2b2b2b" stroke-width="1.5" /><line x1="251.90" y1="158.00" x2="251.90" y2="149.00" stroke="#2b2b2b" stroke-width="1.5" /><rect x="60.30" y="158.00" width="221.40" height="153.00" fill="none" stroke="#2b2b2b" stroke-width="1.6"/><line x1="63.00" y1="158.00" x2="63.00" y2="167.00" stroke="#2b2b2b" stroke-width="1.5" /><line x1="63.00" y1="311.00" x2="63.00" y2="302.00" stroke="#2b2b2b" stroke-width="1.5" /><line x1="100.78" y1="158.00" x2="100.78" y2="167.00" stroke="#2b2b2b" stroke-width="1.5" /><line x1="100.78" y1="311.00" x2="100.78" y2="302.00" stroke="#2b2b2b" stroke-width="1.5" /><line x1="138.56" y1="158.00" x2="138.56" y2="167.00" stroke="#2b2b2b" stroke-width="1.5" /><line x1="138.56" y1="311.00" x2="138.56" y2="302.00" stroke="#2b2b2b" stroke-width="1.5" /><line x1="176.34" y1="158.00" x2="176.34" y2="167.00" stroke="#2b2b2b" stroke-width="1.5" /><line x1="176.34" y1="311.00" x2="176.34" y2="302.00" stroke="#2b2b2b" stroke-width="1.5" /><line x1="214.12" y1="158.00" x2="214.12" y2="167.00" stroke="#2b2b2b" stroke-width="1.5" /><line x1="214.12" y1="311.00" x2="214.12" y2="302.00" stroke="#2b2b2b" stroke-width="1.5" /><line x1="251.90" y1="158.00" x2="251.90" y2="167.00" stroke="#2b2b2b" stroke-width="1.5" /><line x1="251.90" y1="311.00" x2="251.90" y2="302.00" stroke="#2b2b2b" stroke-width="1.5" /><rect x="377.30" y="4.40" width="221.20" height="188.20" fill="none" stroke="#2b2b2b" stroke-width="1.6"/><line x1="380.00" y1="4.40" x2="380.00" y2="13.40" stroke="#2b2b2b" stroke-width="1.5" /><line x1="380.00" y1="192.60" x2="380.00" y2="183.60" stroke="#2b2b2b" stroke-width="1.5" /><line x1="417.78" y1="4.40" x2="417.78" y2="13.40" stroke="#2b2b2b" stroke-width="1.5" /><line x1="417.78" y1="192.60" x2="417.78" y2="183.60" stroke="#2b2b2b" stroke-width="1.5" /><line x1="455.56" y1="4.40" x2="455.56" y2="13.40" stroke="#2b2b2b" stroke-width="1.5" /><line x1="455.56" y1="192.60" x2="455.56" y2="183.60" stroke="#2b2b2b" stroke-width="1.5" /><line x1="493.34" y1="4.40" x2="493.34" y2="13.40" stroke="#2b2b2b" stroke-width="1.5" /><line x1="493.34" y1="192.60" x2="493.34" y2="183.60" stroke="#2b2b2b" stroke-width="1.5" /><line x1="531.12" y1="4.40" x2="531.12" y2="13.40" stroke="#2b2b2b" stroke-width="1.5" /><line x1="531.12" y1="192.60" x2="531.12" y2="183.60" stroke="#2b2b2b" stroke-width="1.5" /><line x1="568.90" y1="4.40" x2="568.90" y2="13.40" stroke="#2b2b2b" stroke-width="1.5" /><line x1="568.90" y1="192.60" x2="568.90" y2="183.60" stroke="#2b2b2b" stroke-width="1.5" /><rect x="377.30" y="192.60" width="221.20" height="222.40" fill="none" stroke="#2b2b2b" stroke-width="1.6"/><line x1="380.00" y1="192.60" x2="380.00" y2="201.60" stroke="#2b2b2b" stroke-width="1.5" /><line x1="380.00" y1="415.00" x2="380.00" y2="406.00" stroke="#2b2b2b" stroke-width="1.5" /><line x1="417.78" y1="192.60" x2="417.78" y2="201.60" stroke="#2b2b2b" stroke-width="1.5" /><line x1="417.78" y1="415.00" x2="417.78" y2="406.00" stroke="#2b2b2b" stroke-width="1.5" /><line x1="455.56" y1="192.60" x2="455.56" y2="201.60" stroke="#2b2b2b" stroke-width="1.5" /><line x1="455.56" y1="415.00" x2="455.56" y2="406.00" stroke="#2b2b2b" stroke-width="1.5" /><line x1="493.34" y1="192.60" x2="493.34" y2="201.60" stroke="#2b2b2b" stroke-width="1.5" /><line x1="493.34" y1="415.00" x2="493.34" y2="406.00" stroke="#2b2b2b" stroke-width="1.5" /><line x1="531.12" y1="192.60" x2="531.12" y2="201.60" stroke="#2b2b2b" stroke-width="1.5" /><line x1="531.12" y1="415.00" x2="531.12" y2="406.00" stroke="#2b2b2b" stroke-width="1.5" /><line x1="568.90" y1="192.60" x2="568.90" y2="201.60" stroke="#2b2b2b" stroke-width="1.5" /><line x1="568.90" y1="415.00" x2="568.90" y2="406.00" stroke="#2b2b2b" stroke-width="1.5" /><line x1="60.30" y1="14.80" x2="69.30" y2="14.80" stroke="#2b2b2b" stroke-width="1.5" /><line x1="281.70" y1="14.80" x2="272.70" y2="14.80" stroke="#2b2b2b" stroke-width="1.5" /><line x1="60.30" y1="75.50" x2="69.30" y2="75.50" stroke="#2b2b2b" stroke-width="1.5" /><line x1="281.70" y1="75.50" x2="272.70" y2="75.50" stroke="#2b2b2b" stroke-width="1.5" /><line x1="60.30" y1="136.20" x2="69.30" y2="136.20" stroke="#2b2b2b" stroke-width="1.5" /><line x1="281.70" y1="136.20" x2="272.70" y2="136.20" stroke="#2b2b2b" stroke-width="1.5" /><line x1="60.30" y1="213.00" x2="69.30" y2="213.00" stroke="#2b2b2b" stroke-width="1.5" /><line x1="281.70" y1="213.00" x2="272.70" y2="213.00" stroke="#2b2b2b" stroke-width="1.5" /><line x1="60.30" y1="274.40" x2="69.30" y2="274.40" stroke="#2b2b2b" stroke-width="1.5" /><line x1="281.70" y1="274.40" x2="272.70" y2="274.40" stroke="#2b2b2b" stroke-width="1.5" /><line x1="377.30" y1="59.00" x2="386.30" y2="59.00" stroke="#2b2b2b" stroke-width="1.5" /><line x1="598.50" y1="59.00" x2="589.50" y2="59.00" stroke="#2b2b2b" stroke-width="1.5" /><line x1="377.30" y1="120.00" x2="386.30" y2="120.00" stroke="#2b2b2b" stroke-width="1.5" /><line x1="598.50" y1="120.00" x2="589.50" y2="120.00" stroke="#2b2b2b" stroke-width="1.5" /><line x1="377.30" y1="181.00" x2="386.30" y2="181.00" stroke="#2b2b2b" stroke-width="1.5" /><line x1="598.50" y1="181.00" x2="589.50" y2="181.00" stroke="#2b2b2b" stroke-width="1.5" /><line x1="377.30" y1="242.00" x2="386.30" y2="242.00" stroke="#2b2b2b" stroke-width="1.5" /><line x1="598.50" y1="242.00" x2="589.50" y2="242.00" stroke="#2b2b2b" stroke-width="1.5" /><line x1="377.30" y1="302.60" x2="386.30" y2="302.60" stroke="#2b2b2b" stroke-width="1.5" /><line x1="598.50" y1="302.60" x2="589.50" y2="302.60" stroke="#2b2b2b" stroke-width="1.5" /><line x1="377.30" y1="363.20" x2="386.30" y2="363.20" stroke="#2b2b2b" stroke-width="1.5" /><line x1="598.50" y1="363.20" x2="589.50" y2="363.20" stroke="#2b2b2b" stroke-width="1.5" /><rect x="60.30" y="311.00" width="221.40" height="104.50" fill="none" stroke="#2b2b2b" stroke-width="1.6"/><line x1="63.00" y1="311.00" x2="63.00" y2="320.00" stroke="#2b2b2b" stroke-width="1.5" /><line x1="63.00" y1="415.50" x2="63.00" y2="406.50" stroke="#2b2b2b" stroke-width="1.5" /><line x1="100.78" y1="311.00" x2="100.78" y2="320.00" stroke="#2b2b2b" stroke-width="1.5" /><line x1="100.78" y1="415.50" x2="100.78" y2="406.50" stroke="#2b2b2b" stroke-width="1.5" /><line x1="138.56" y1="311.00" x2="138.56" y2="320.00" stroke="#2b2b2b" stroke-width="1.5" /><line x1="138.56" y1="415.50" x2="138.56" y2="406.50" stroke="#2b2b2b" stroke-width="1.5" /><line x1="176.34" y1="311.00" x2="176.34" y2="320.00" stroke="#2b2b2b" stroke-width="1.5" /><line x1="176.34" y1="415.50" x2="176.34" y2="406.50" stroke="#2b2b2b" stroke-width="1.5" /><line x1="214.12" y1="311.00" x2="214.12" y2="320.00" stroke="#2b2b2b" stroke-width="1.5" /><line x1="214.12" y1="415.50" x2="214.12" y2="406.50" stroke="#2b2b2b" stroke-width="1.5" /><line x1="251.90" y1="311.00" x2="251.90" y2="320.00" stroke="#2b2b2b" stroke-width="1.5" /><line x1="251.90" y1="415.50" x2="251.90" y2="406.50" stroke="#2b2b2b" stroke-width="1.5" /><line x1="60.30" y1="323.30" x2="69.30" y2="323.30" stroke="#2b2b2b" stroke-width="1.5" /><line x1="281.70" y1="323.30" x2="272.70" y2="323.30" stroke="#2b2b2b" stroke-width="1.5" /><line x1="60.30" y1="346.30" x2="69.30" y2="346.30" stroke="#2b2b2b" stroke-width="1.5" /><line x1="281.70" y1="346.30" x2="272.70" y2="346.30" stroke="#2b2b2b" stroke-width="1.5" /><line x1="60.30" y1="369.30" x2="69.30" y2="369.30" stroke="#2b2b2b" stroke-width="1.5" /><line x1="281.70" y1="369.30" x2="272.70" y2="369.30" stroke="#2b2b2b" stroke-width="1.5" /><line x1="60.30" y1="392.30" x2="69.30" y2="392.30" stroke="#2b2b2b" stroke-width="1.5" /><line x1="281.70" y1="392.30" x2="272.70" y2="392.30" stroke="#2b2b2b" stroke-width="1.5" /><line x1="71.9" y1="392.30" x2="273.7" y2="392.30" stroke="#2b2b2b" stroke-width="1.6" stroke-dasharray="3.2 6.2"/><line x1="63.0" y1="213.0" x2="281.0" y2="250.4" stroke="#17292f" stroke-width="2.1" stroke-linecap="round" stroke-dasharray="0 4.05"/><line x1="380.0" y1="59.0" x2="598.0" y2="129.2" stroke="#17292f" stroke-width="2.1" stroke-linecap="round" stroke-dasharray="0 4.05"/><line x1="380.0" y1="242.0" x2="597.0" y2="364.2" stroke="#17292f" stroke-width="2.1" stroke-linecap="round" stroke-dasharray="0 4.05"/>
<rect x="396.4" y="144.0" width="99.2" height="13.8" fill="url(#cbg)" stroke="#262626" stroke-width="2.0"/><line x1="420.8" y1="144.0" x2="420.8" y2="147.5" stroke="#262626" stroke-width="1.4"/><line x1="420.8" y1="157.8" x2="420.8" y2="154.3" stroke="#262626" stroke-width="1.4"/><line x1="445.0" y1="144.0" x2="445.0" y2="147.5" stroke="#262626" stroke-width="1.4"/><line x1="445.0" y1="157.8" x2="445.0" y2="154.3" stroke="#262626" stroke-width="1.4"/><line x1="469.2" y1="144.0" x2="469.2" y2="147.5" stroke="#262626" stroke-width="1.4"/><line x1="469.2" y1="157.8" x2="469.2" y2="154.3" stroke="#262626" stroke-width="1.4"/>
<line x1="192" y1="362.6" x2="192" y2="330" stroke="#1e1e1e" stroke-width="2"/><polygon points="185.0,331.6 199.2,331.6 192.1,317.4" fill="#1e1e1e"/><circle cx="171.2" cy="338.8" r="7.0" fill="none" stroke="#262626" stroke-width="1.45"/><circle cx="171.2" cy="338.8" r="1.7" fill="#262626"/>
<g opacity="0.995"><text x="52.6" y="24.2" font-size="17.5" font-weight="normal" font-style="normal" fill="#262626" text-anchor="end">−20</text><text x="55.6" y="85.7" font-size="17.5" font-weight="normal" font-style="normal" fill="#262626" text-anchor="end">0</text><text x="54.1" y="145.6" font-size="17.5" font-weight="normal" font-style="normal" fill="#262626" text-anchor="end">20</text><text x="55.9" y="222.2" font-size="17.5" font-weight="normal" font-style="normal" fill="#262626" text-anchor="end">0</text><text x="53.7" y="284.3" font-size="17.5" font-weight="normal" font-style="normal" fill="#262626" text-anchor="end">20</text><text x="55.0" y="331.5" font-size="17.5" font-weight="normal" font-style="normal" fill="#262626" text-anchor="end">3</text><text x="55.0" y="354.5" font-size="17.5" font-weight="normal" font-style="normal" fill="#262626" text-anchor="end">2</text><text x="55.0" y="377.5" font-size="17.5" font-weight="normal" font-style="normal" fill="#262626" text-anchor="end">1</text><text x="55.0" y="400.5" font-size="17.5" font-weight="normal" font-style="normal" fill="#262626" text-anchor="end">0</text><text x="55.0" y="423.5" font-size="17.5" font-weight="normal" font-style="normal" fill="#262626" text-anchor="end">−1</text><text x="372.6" y="66.0" font-size="17.5" font-weight="normal" font-style="normal" fill="#262626" text-anchor="end">0</text><text x="372.6" y="249.0" font-size="17.5" font-weight="normal" font-style="normal" fill="#262626" text-anchor="end">0</text><text x="372.6" y="127.0" font-size="17.5" font-weight="normal" font-style="normal" fill="#262626" text-anchor="end">20</text><text x="372.6" y="309.6" font-size="17.5" font-weight="normal" font-style="normal" fill="#262626" text-anchor="end">20</text><text x="372.6" y="188.0" font-size="17.5" font-weight="normal" font-style="normal" fill="#262626" text-anchor="end">40</text><text x="372.6" y="370.2" font-size="17.5" font-weight="normal" font-style="normal" fill="#262626" text-anchor="end">40</text><text x="63.5" y="438.6" font-size="17.5" font-weight="normal" font-style="normal" fill="#262626" text-anchor="middle">0</text><text x="380.5" y="438.6" font-size="17.5" font-weight="normal" font-style="normal" fill="#262626" text-anchor="middle">0</text><text x="101.28" y="438.6" font-size="17.5" font-weight="normal" font-style="normal" fill="#262626" text-anchor="middle">1</text><text x="418.28" y="438.6" font-size="17.5" font-weight="normal" font-style="normal" fill="#262626" text-anchor="middle">1</text><text x="139.06" y="438.6" font-size="17.5" font-weight="normal" font-style="normal" fill="#262626" text-anchor="middle">2</text><text x="456.06" y="438.6" font-size="17.5" font-weight="normal" font-style="normal" fill="#262626" text-anchor="middle">2</text><text x="176.84" y="438.6" font-size="17.5" font-weight="normal" font-style="normal" fill="#262626" text-anchor="middle">3</text><text x="493.84000000000003" y="438.6" font-size="17.5" font-weight="normal" font-style="normal" fill="#262626" text-anchor="middle">3</text><text x="214.62" y="438.6" font-size="17.5" font-weight="normal" font-style="normal" fill="#262626" text-anchor="middle">4</text><text x="531.62" y="438.6" font-size="17.5" font-weight="normal" font-style="normal" fill="#262626" text-anchor="middle">4</text><text x="252.4" y="438.6" font-size="17.5" font-weight="normal" font-style="normal" fill="#262626" text-anchor="middle">5</text><text x="569.4" y="438.6" font-size="17.5" font-weight="normal" font-style="normal" fill="#262626" text-anchor="middle">5</text><text x="173.3" y="462.8" font-size="19" font-weight="normal" font-style="normal" fill="#262626" text-anchor="middle">Time (ns)</text><text x="488.3" y="462.8" font-size="19" font-weight="normal" font-style="normal" fill="#262626" text-anchor="middle">Time (ns)</text><text transform="translate(14.5,279.2) rotate(-90)" font-size="19.3" fill="#262626" textLength="238.5" lengthAdjust="spacingAndGlyphs">Pump–probe distance (µm)</text><text transform="translate(332.3,323.6) rotate(-90)" font-size="19.3" fill="#262626" textLength="238.5" lengthAdjust="spacingAndGlyphs">Pump–probe distance (µm)</text><text transform="translate(19.2,404.5) rotate(-90)" font-size="19" fill="#262626" textLength="70.5" lengthAdjust="spacingAndGlyphs">FR (a.u.)</text><text x="149.5" y="144" font-size="19.3" fill="#262626"><tspan font-style="italic">E</tspan> = 0 V cm<tspan font-size="12.6" dx="0.6" dy="-6.3">−1</tspan></text><text x="137" y="295.7" font-size="19.3" fill="#ffffff"><tspan font-style="italic">E</tspan> = 33 V cm<tspan font-size="12.6" dx="0.6" dy="-6.3">−1</tspan></text><text x="425" y="34" font-size="19.3" fill="#262626"><tspan font-style="italic">E</tspan> = 67 V cm<tspan font-size="12.6" dx="0.6" dy="-6.3">−1</tspan></text><text x="425" y="223.7" font-size="19.3" fill="#262626"><tspan font-style="italic">E</tspan> = 100 V cm<tspan font-size="12.6" dx="0.6" dy="-6.3">−1</tspan></text><text x="393.6" y="369" font-size="19.3" fill="#262626" textLength="63.5" lengthAdjust="spacing"><tspan font-style="italic">T</tspan> = 5 K</text><text x="392.6" y="396" font-size="19.3" fill="#262626" textLength="104" lengthAdjust="spacing"><tspan font-style="italic">B</tspan> = 0.000 T</text><text x="255.2" y="29.6" font-size="23" font-weight="bold" font-style="normal" fill="#262626" stroke="#262626" stroke-width="1.0">a</text><text x="255.0" y="186.9" font-size="23" font-weight="bold" font-style="normal" fill="#262626" stroke="#262626" stroke-width="1.0">b</text><text x="575.4" y="37.6" font-size="23" font-weight="bold" font-style="normal" fill="#262626" stroke="#262626" stroke-width="1.0">c</text><text x="575.0" y="230.8" font-size="23" font-weight="bold" font-style="normal" fill="#262626" stroke="#262626" stroke-width="1.0">d</text><text x="255.4" y="340.6" font-size="23" font-weight="bold" font-style="normal" fill="#262626" stroke="#262626" stroke-width="1.0">e</text><text x="405.4" y="135.9" font-size="17.6" font-weight="normal" font-style="normal" fill="#262626" textLength="72.5" lengthAdjust="spacingAndGlyphs">FR (a.u.)</text><text x="400.8" y="179.6" font-size="18.3" font-weight="normal" font-style="normal" fill="#262626" text-anchor="end">−1</text><text x="421.2" y="179.6" font-size="18.3" font-weight="normal" font-style="normal" fill="#262626" text-anchor="middle">0</text><text x="443.0" y="179.6" font-size="18.3" font-weight="normal" font-style="normal" fill="#262626" text-anchor="middle">1</text><text x="468.9" y="179.6" font-size="18.3" font-weight="normal" font-style="normal" fill="#262626" text-anchor="middle">2</text><text x="492.7" y="179.6" font-size="18.3" font-weight="normal" font-style="normal" fill="#262626" text-anchor="middle">3</text><text x="146.8" y="344.4" font-size="19.5" font-weight="normal" font-style="italic" fill="#262626" stroke="#262626" stroke-width="0.3">z</text><text x="201.3" y="352.2" font-size="19.3" font-weight="normal" font-style="italic" fill="#262626">E</text></g>
</svg></body></html>
